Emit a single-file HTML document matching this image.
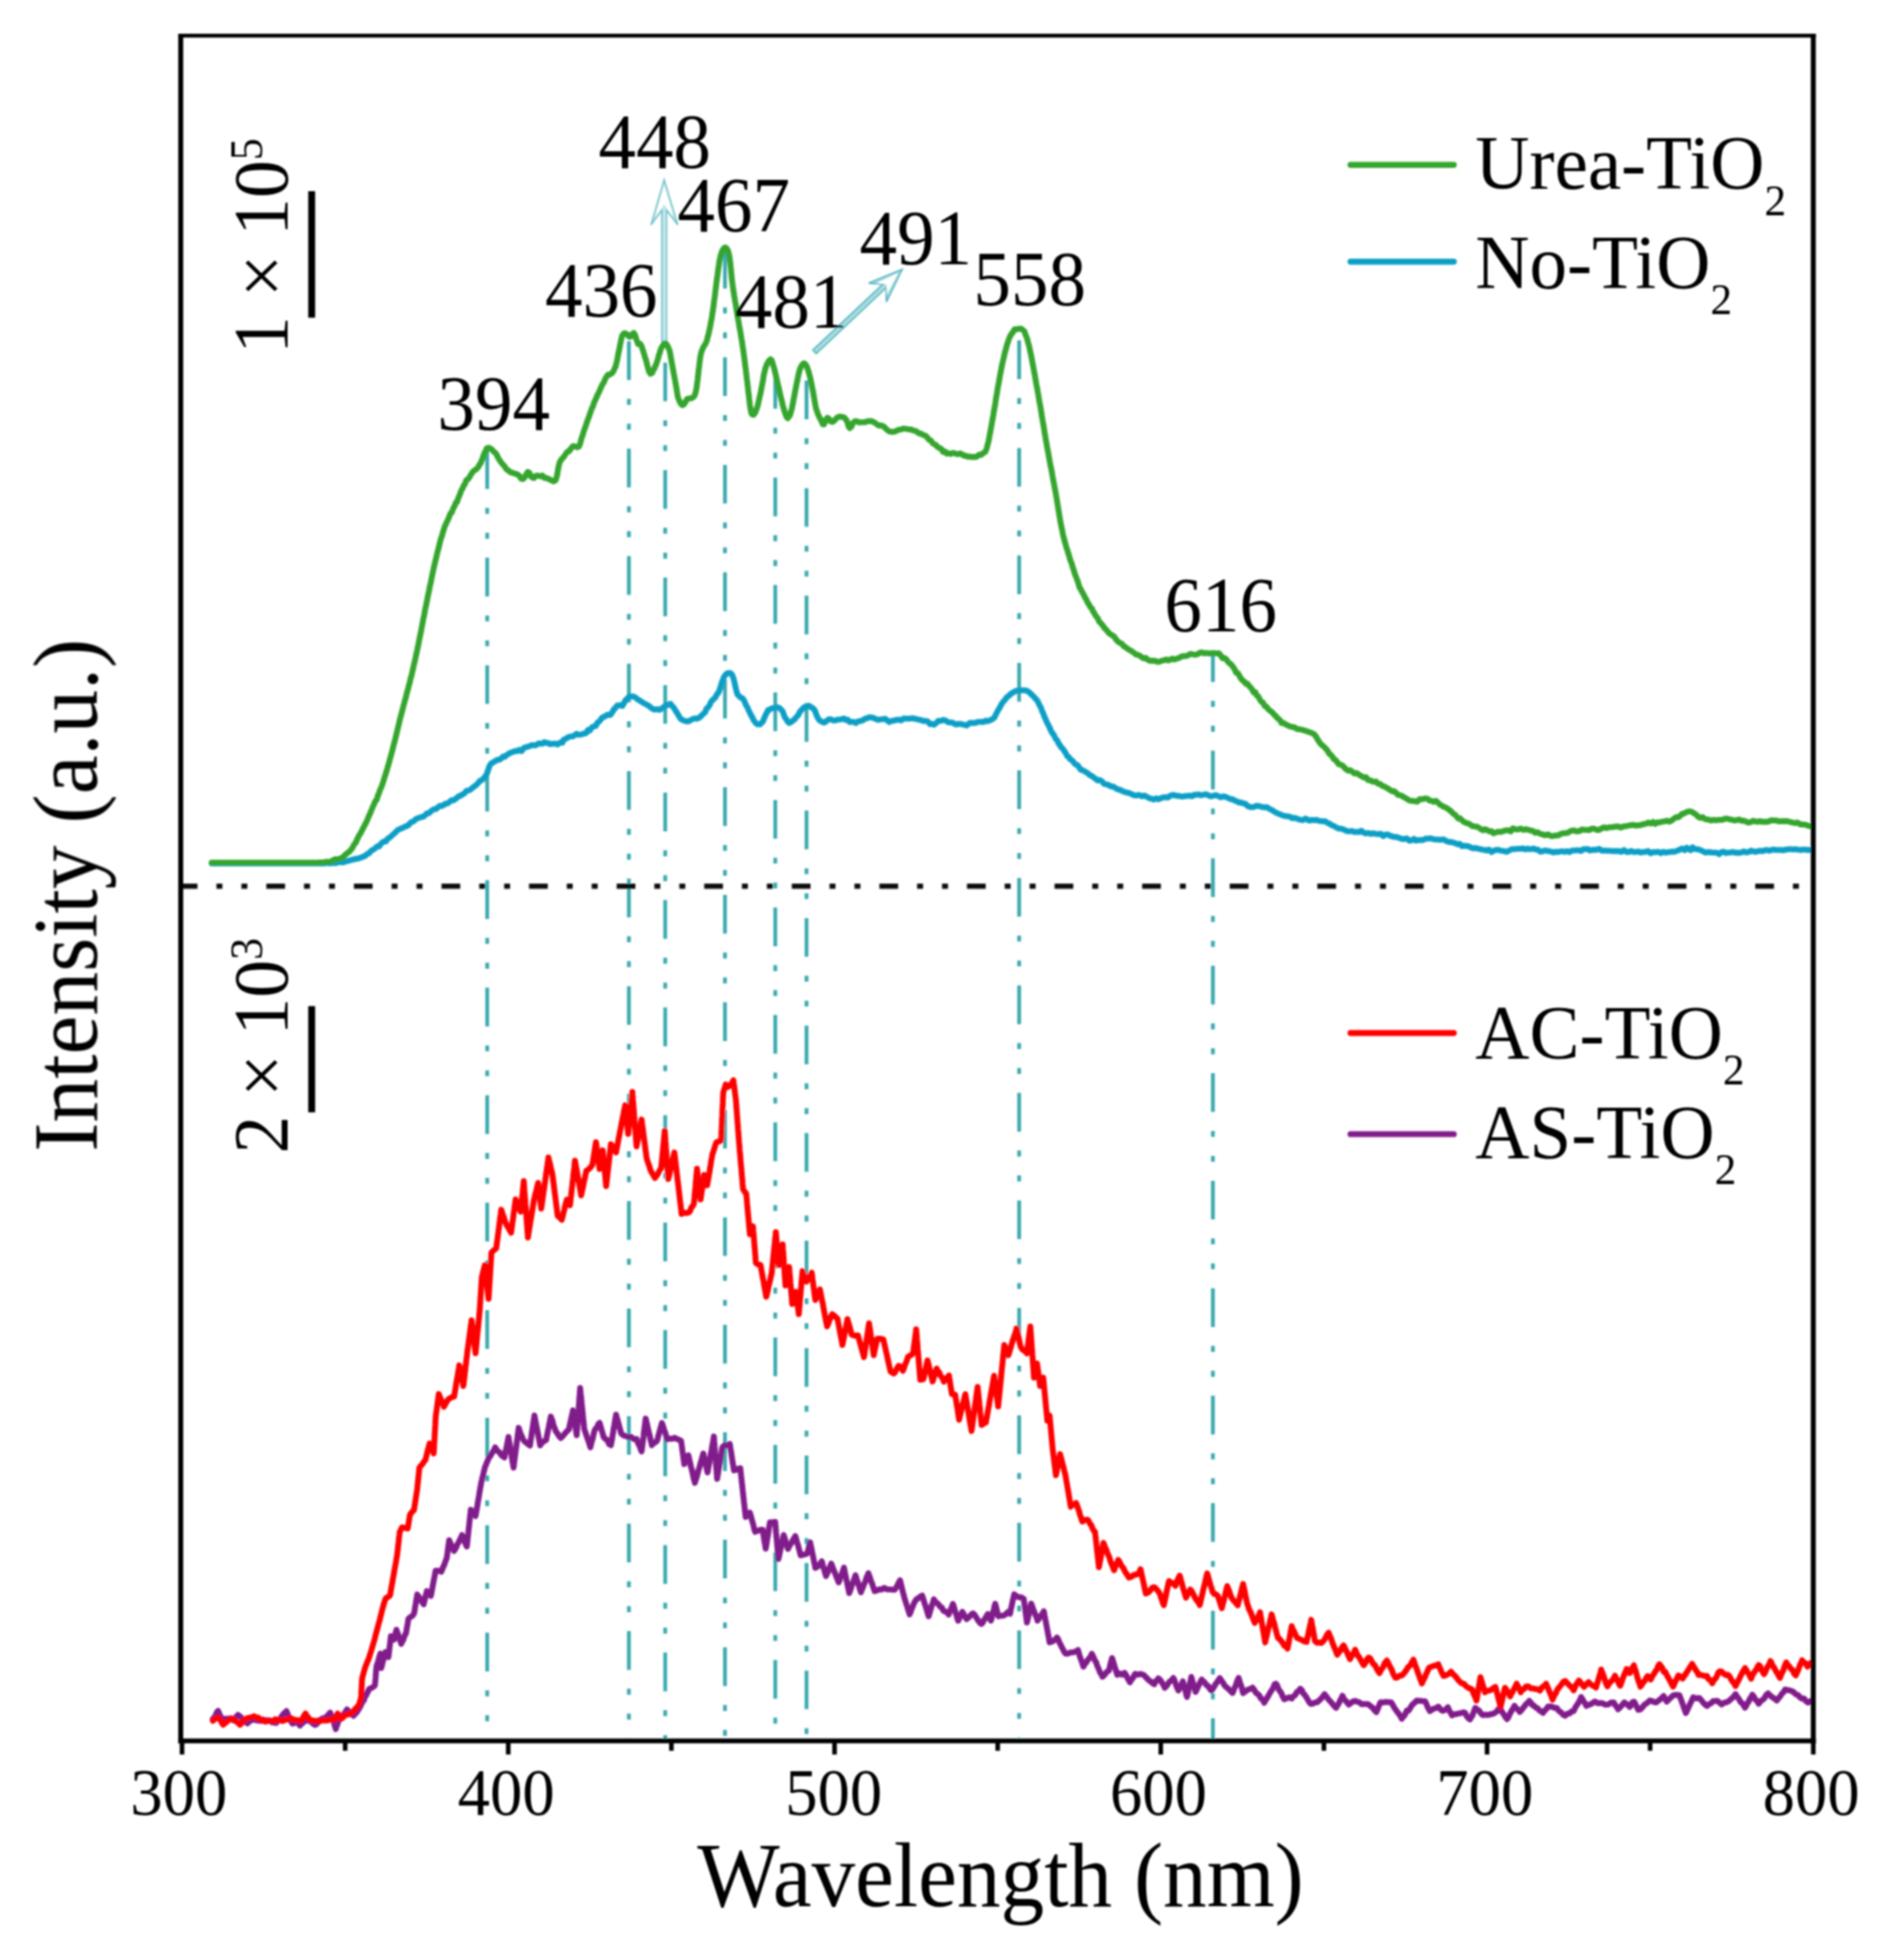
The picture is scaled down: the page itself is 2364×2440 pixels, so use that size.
<!DOCTYPE html>
<html lang="en"><head><meta charset="utf-8"><title>PL spectra</title>
<style>html,body{margin:0;padding:0;background:#fff}svg{display:block}text{font-family:"Liberation Serif","DejaVu Serif",serif;fill:#000}</style>
</head><body>
<svg width="2364" height="2440" viewBox="0 0 2364 2440">
<defs><filter id="soft" x="0" y="0" width="2364" height="2440" filterUnits="userSpaceOnUse"><feGaussianBlur stdDeviation="0.9"/></filter></defs>
<rect x="0" y="0" width="2364" height="2440" fill="#fff"/>
<g filter="url(#soft)">
<g stroke="#3ba9ae" stroke-width="4.7" fill="none">
<line x1="606.5" y1="557.0" x2="606.5" y2="2166.2" stroke-dasharray="48.2 23.6 7.4 23.6 7.4 23.62" stroke-dashoffset="130.3"/>
<line x1="782.9" y1="418.0" x2="782.9" y2="2166.2" stroke-dasharray="48.2 23.6 7.4 23.6 7.4 23.62" stroke-dashoffset="127.1"/>
<line x1="828.1" y1="428.0" x2="828.1" y2="2166.2" stroke-dasharray="48.2 23.6 7.4 23.6 7.4 23.62" stroke-dashoffset="110.4"/>
<line x1="902.5" y1="309.0" x2="902.5" y2="2166.2" stroke-dasharray="48.2 23.6 7.4 23.6 7.4 23.62" stroke-dashoffset="131.8"/>
<line x1="965.1" y1="449.0" x2="965.1" y2="2166.2" stroke-dasharray="48.2 23.6 7.4 23.6 7.4 23.62" stroke-dashoffset="122.2"/>
<line x1="1004.0" y1="453.0" x2="1004.0" y2="2166.2" stroke-dasharray="48.2 23.6 7.4 23.6 7.4 23.62" stroke-dashoffset="113.0"/>
<line x1="1268.7" y1="410.0" x2="1268.7" y2="2166.2" stroke-dasharray="48.2 23.6 7.4 23.6 7.4 23.62" stroke-dashoffset="120.0"/>
<line x1="1509.9" y1="813.0" x2="1509.9" y2="2166.2" stroke-dasharray="48.2 23.6 7.4 23.6 7.4 23.62" stroke-dashoffset="12.2"/>
</g>
<line x1="224" y1="1103.2" x2="2257.3" y2="1103.2" stroke="#111" stroke-width="6.5" stroke-dasharray="23.3 23.65 7.4 23.65 7.4 23.63" stroke-dashoffset="1.5"/>
<path d="M823.8 426 L823.8 262 L810.4 280 L826.8 223.5 L843.8 280 L829.8 262 L829.8 426 Z" fill="#c2e6e9" stroke="#5fbec6" stroke-width="1.6" stroke-linejoin="miter"/>
<path d="M826.8 231 L815.5 270 L826.8 254.5 L838.5 270 Z" fill="#fff" stroke="none"/>
<g transform="translate(1014 438) rotate(-43.27)">
<path d="M0 -3 L119.8 -3 L107.8 -16 L149.8 0 L107.8 16 L119.8 3 L0 3 Z" fill="#aadcdf" stroke="#4fb8c0" stroke-width="1.9"/>
<path d="M142.8 0 L114.8 -9.5 L122.8 0 L114.8 9.5 Z" fill="#fff"/>
</g>
<g fill="none" stroke-width="7.3" stroke-linejoin="round" stroke-linecap="round">
<path d="M263.5 1074.8 L266.6 1074.8 L269.7 1074.8 L272.8 1074.8 L276.2 1074.8 L279.5 1074.8 L282.9 1074.8 L286.2 1074.8 L289.0 1074.8 L291.7 1074.8 L294.5 1074.8 L297.2 1074.8 L300.0 1074.8 L303.3 1074.8 L306.5 1074.8 L309.8 1074.8 L313.1 1074.8 L316.4 1074.8 L319.8 1074.8 L323.2 1074.8 L326.5 1074.8 L329.9 1074.8 L333.3 1074.8 L336.6 1074.8 L340.0 1074.8 L342.8 1074.8 L345.6 1074.8 L348.3 1074.8 L351.1 1074.8 L353.9 1074.8 L356.7 1074.8 L359.4 1074.8 L362.2 1074.8 L365.0 1074.8 L367.8 1074.8 L370.8 1074.8 L373.9 1074.8 L376.9 1074.8 L380.0 1074.8 L383.3 1074.8 L386.7 1074.8 L390.0 1074.8 L392.8 1074.8 L395.6 1074.8 L398.3 1074.8 L401.7 1074.8 L405.0 1074.8 L407.3 1073.6 L409.5 1074.8 L412.3 1074.5 L415.0 1074.2 L417.7 1074.5 L420.3 1073.7 L423.3 1073.1 L427.2 1073.7 L431.5 1072.1 L435.9 1071.0 L440.1 1069.9 L444.3 1068.9 L446.4 1068.8 L448.5 1067.8 L450.6 1067.2 L452.7 1066.1 L454.9 1065.4 L457.0 1063.1 L459.1 1062.5 L461.2 1060.3 L463.3 1058.1 L465.4 1057.4 L467.5 1055.5 L469.6 1053.7 L471.7 1053.9 L473.8 1051.0 L476.0 1048.6 L478.2 1047.4 L480.4 1047.7 L482.6 1044.0 L484.5 1043.2 L486.5 1041.4 L489.6 1038.6 L492.3 1036.2 L494.9 1033.5 L497.4 1032.1 L499.9 1031.2 L503.3 1029.4 L506.0 1028.5 L508.6 1027.0 L511.8 1023.5 L514.9 1022.5 L517.5 1019.8 L520.2 1018.7 L523.6 1017.4 L526.1 1016.9 L528.6 1015.6 L531.2 1012.7 L533.9 1012.4 L537.0 1009.4 L540.8 1007.2 L543.0 1007.0 L545.1 1005.1 L547.4 1003.2 L549.7 1003.5 L552.0 1002.4 L554.4 1000.5 L556.8 1000.4 L559.3 998.6 L562.0 996.1 L564.7 996.4 L567.9 993.9 L571.0 991.2 L573.3 990.7 L575.5 989.0 L577.8 988.0 L580.8 984.4 L583.8 984.0 L586.1 982.6 L588.4 980.5 L590.3 979.2 L592.2 977.7 L594.0 976.2 L595.8 974.1 L597.6 971.9 L599.3 971.6 L602.6 968.5 L604.0 966.5 L605.4 964.5 L606.4 962.4 L607.5 958.8 L608.3 957.1 L609.2 953.7 L610.3 952.3 L611.4 950.4 L614.6 948.7 L618.3 946.4 L622.2 945.4 L624.2 944.0 L626.1 941.8 L628.1 942.2 L630.2 940.3 L632.2 939.3 L634.2 937.6 L637.9 936.3 L641.7 934.9 L643.9 935.1 L646.2 933.4 L649.2 935.0 L652.2 931.0 L655.7 929.9 L659.1 929.0 L662.2 927.5 L665.4 928.0 L668.0 927.2 L670.6 925.4 L672.9 925.7 L675.2 925.8 L677.5 923.9 L679.8 924.9 L682.2 924.9 L684.6 926.4 L687.0 926.0 L689.4 925.9 L691.7 925.6 L694.0 926.9 L698.1 923.9 L700.0 924.6 L701.9 920.6 L704.0 919.9 L706.0 918.7 L708.3 917.3 L710.7 916.8 L713.1 916.7 L715.6 915.0 L717.8 913.5 L720.0 914.7 L723.4 914.4 L726.2 913.4 L729.6 912.7 L731.9 908.7 L734.2 909.5 L736.7 905.6 L739.3 904.1 L741.6 903.9 L743.9 899.4 L745.8 898.3 L747.7 896.0 L749.4 893.4 L751.1 892.8 L754.0 891.2 L756.2 889.7 L758.0 890.2 L760.0 889.9 L762.7 885.9 L764.2 882.8 L765.7 882.0 L768.4 878.1 L770.6 878.2 L772.5 877.9 L774.7 878.8 L777.4 874.2 L778.8 871.4 L780.3 870.3 L783.2 867.2 L786.1 866.9 L789.0 867.1 L791.6 868.8 L793.8 870.7 L795.8 871.7 L797.9 873.1 L800.3 874.7 L802.9 876.2 L805.3 877.3 L807.4 878.5 L809.3 880.1 L811.6 882.0 L814.5 883.3 L817.8 882.9 L821.0 883.7 L824.0 881.8 L826.9 879.8 L829.5 877.7 L831.5 877.7 L833.1 876.5 L834.8 876.2 L836.8 879.0 L838.9 881.1 L841.0 884.8 L843.1 887.9 L845.2 891.5 L847.4 894.9 L849.8 896.4 L852.2 897.3 L854.8 898.0 L857.6 897.8 L860.5 896.0 L863.2 894.8 L865.4 894.3 L867.3 894.8 L869.5 893.9 L872.2 892.1 L875.1 888.9 L878.0 886.4 L879.4 882.2 L880.8 881.4 L882.2 879.6 L883.6 877.4 L885.0 873.8 L886.4 872.2 L887.8 870.8 L889.3 869.5 L890.7 868.1 L892.2 864.6 L893.5 863.3 L894.8 861.5 L895.9 858.1 L897.0 854.8 L898.0 851.5 L899.0 848.1 L900.0 846.4 L901.0 843.1 L903.2 840.0 L905.3 838.1 L907.4 838.0 L909.2 838.0 L911.0 839.4 L912.7 843.2 L913.6 846.4 L914.4 849.7 L915.0 852.4 L915.6 855.4 L916.2 857.9 L917.1 861.2 L918.0 864.4 L920.0 866.6 L922.2 868.5 L924.3 869.2 L926.3 872.0 L928.3 877.0 L929.5 879.2 L930.6 880.8 L932.0 884.4 L933.4 887.1 L934.9 890.3 L936.4 892.7 L937.7 895.7 L939.0 897.6 L941.0 900.3 L942.6 901.5 L944.3 901.6 L946.0 901.9 L947.8 900.0 L949.6 898.3 L950.6 896.0 L951.5 893.6 L952.6 891.2 L953.6 888.7 L954.8 887.1 L955.9 884.2 L958.5 883.1 L961.4 881.6 L964.3 881.6 L967.3 880.4 L970.2 881.2 L972.7 883.8 L974.4 885.9 L975.7 889.6 L977.0 893.1 L978.6 894.9 L980.3 898.0 L982.2 900.0 L984.5 899.1 L987.0 897.2 L989.6 895.1 L991.0 893.0 L992.4 891.6 L993.9 890.0 L995.3 886.7 L998.0 883.5 L1000.2 881.2 L1002.1 880.0 L1004.3 879.4 L1007.1 878.6 L1010.1 880.7 L1012.8 882.4 L1014.7 885.1 L1015.5 887.6 L1016.2 889.5 L1018.0 893.6 L1020.3 896.8 L1022.9 898.3 L1025.4 899.6 L1027.5 898.8 L1029.5 896.9 L1031.7 895.4 L1034.2 895.4 L1037.0 896.9 L1040.0 896.8 L1043.2 895.8 L1046.7 895.6 L1050.7 894.5 L1053.0 896.4 L1055.2 895.9 L1057.7 898.9 L1060.2 898.7 L1062.8 898.7 L1065.4 900.2 L1068.3 898.0 L1071.1 897.6 L1074.1 896.7 L1077.1 894.6 L1079.7 894.1 L1082.3 892.8 L1086.4 893.3 L1089.8 894.8 L1092.8 896.2 L1095.5 895.6 L1097.7 895.4 L1100.0 895.1 L1101.9 894.7 L1103.9 896.4 L1107.0 898.8 L1109.5 897.3 L1112.1 897.3 L1115.2 896.3 L1118.3 895.8 L1121.7 896.9 L1125.0 894.3 L1128.5 894.7 L1132.1 894.7 L1135.8 894.2 L1139.5 894.9 L1143.0 895.7 L1146.4 896.4 L1149.4 897.7 L1152.4 897.4 L1155.1 898.3 L1157.9 901.5 L1160.2 901.1 L1162.5 902.2 L1165.5 900.2 L1167.8 897.5 L1171.4 897.4 L1174.5 896.1 L1177.6 897.2 L1180.2 899.1 L1182.7 899.4 L1185.3 899.4 L1187.8 900.8 L1190.4 901.9 L1192.9 901.1 L1196.5 901.4 L1200.0 902.3 L1203.6 903.1 L1207.2 900.0 L1210.7 900.0 L1214.3 900.0 L1216.8 898.9 L1219.3 898.6 L1221.8 898.7 L1224.3 898.9 L1226.8 897.1 L1229.4 897.9 L1232.5 896.7 L1235.7 895.0 L1237.8 893.3 L1239.9 889.2 L1241.4 886.2 L1243.0 883.3 L1244.7 880.7 L1246.4 877.2 L1248.7 873.8 L1251.0 871.2 L1253.6 867.8 L1256.1 866.1 L1258.4 863.7 L1260.7 862.3 L1264.5 860.1 L1268.0 859.7 L1271.4 859.4 L1274.9 859.3 L1278.4 859.9 L1282.0 862.5 L1283.8 864.4 L1285.6 866.0 L1287.4 867.8 L1289.3 870.0 L1291.1 871.8 L1292.9 875.3 L1294.0 877.9 L1295.2 879.8 L1296.3 882.2 L1297.5 885.9 L1298.6 887.8 L1299.8 891.4 L1301.0 894.0 L1302.3 896.9 L1303.6 899.9 L1305.1 902.6 L1306.6 905.7 L1308.1 909.2 L1309.7 912.3 L1311.4 914.2 L1313.0 917.3 L1314.6 920.3 L1316.3 922.1 L1317.9 925.8 L1319.4 927.4 L1320.9 930.2 L1322.5 931.7 L1324.0 933.4 L1325.5 935.7 L1327.0 938.3 L1328.7 941.4 L1330.3 942.3 L1332.0 945.0 L1333.9 946.2 L1335.7 947.7 L1337.6 950.5 L1339.6 951.9 L1341.6 952.6 L1343.6 955.8 L1345.7 958.4 L1347.9 958.9 L1350.0 960.1 L1352.2 961.6 L1354.4 962.7 L1356.6 965.0 L1358.9 965.7 L1361.3 967.8 L1363.6 969.3 L1366.2 971.6 L1368.8 971.0 L1371.4 972.2 L1374.5 976.0 L1377.6 976.5 L1380.7 977.5 L1383.2 979.2 L1385.7 979.1 L1388.2 980.7 L1390.7 982.4 L1393.8 983.1 L1396.9 984.6 L1400.0 985.9 L1402.6 986.6 L1405.2 987.1 L1407.8 988.3 L1411.3 989.9 L1414.8 990.3 L1418.1 989.6 L1421.4 991.4 L1424.5 990.3 L1427.6 991.9 L1430.6 993.6 L1433.5 994.3 L1436.4 995.4 L1439.3 993.8 L1442.2 995.1 L1445.1 993.6 L1447.9 992.7 L1450.8 992.4 L1453.9 992.8 L1457.0 990.6 L1460.4 989.6 L1463.8 990.5 L1467.4 990.8 L1471.0 991.6 L1473.5 991.3 L1476.1 990.8 L1478.6 990.8 L1481.3 990.4 L1483.9 991.3 L1486.6 989.5 L1489.3 989.5 L1492.1 989.0 L1494.9 990.0 L1497.8 989.5 L1500.7 988.8 L1503.6 989.7 L1506.8 991.3 L1509.9 990.9 L1513.1 989.8 L1516.3 990.9 L1519.6 992.6 L1522.9 991.4 L1525.9 992.1 L1529.0 993.5 L1532.0 994.9 L1534.6 995.0 L1537.1 996.7 L1539.7 997.5 L1542.0 999.0 L1544.3 998.9 L1546.7 999.9 L1550.1 1000.6 L1553.6 1003.7 L1557.1 1004.8 L1560.6 1004.7 L1564.1 1003.1 L1567.6 1003.6 L1571.3 1004.7 L1575.0 1005.0 L1577.6 1005.0 L1580.1 1007.0 L1582.7 1008.1 L1585.4 1009.7 L1588.1 1011.5 L1590.7 1012.6 L1593.8 1013.8 L1596.9 1015.3 L1600.0 1016.0 L1603.0 1016.2 L1606.0 1016.9 L1608.9 1018.7 L1611.9 1018.2 L1615.2 1019.4 L1618.4 1020.5 L1621.7 1021.0 L1625.0 1019.0 L1627.7 1020.5 L1630.3 1021.5 L1633.0 1020.7 L1635.7 1021.1 L1638.8 1020.6 L1642.0 1021.8 L1645.9 1022.4 L1650.0 1022.5 L1652.5 1024.5 L1655.0 1025.3 L1657.7 1027.2 L1660.3 1028.1 L1663.3 1030.0 L1666.3 1031.3 L1669.6 1031.6 L1672.9 1032.8 L1676.6 1034.6 L1680.2 1034.9 L1683.1 1034.5 L1686.1 1035.9 L1689.0 1035.5 L1691.8 1035.9 L1694.6 1034.2 L1697.4 1036.4 L1700.1 1037.5 L1703.3 1037.0 L1706.4 1038.1 L1709.6 1037.3 L1712.8 1038.2 L1715.8 1038.3 L1718.9 1038.0 L1721.9 1040.8 L1725.0 1039.0 L1727.9 1038.9 L1730.8 1040.6 L1733.7 1041.5 L1736.6 1041.8 L1739.4 1042.2 L1742.3 1043.3 L1745.1 1044.3 L1747.9 1044.5 L1751.2 1043.7 L1754.4 1046.7 L1757.7 1045.9 L1760.2 1044.3 L1762.7 1046.5 L1765.2 1045.8 L1768.2 1045.6 L1771.2 1045.9 L1774.3 1044.2 L1777.3 1044.0 L1780.5 1043.6 L1783.7 1044.5 L1787.0 1045.2 L1790.2 1045.1 L1793.6 1045.5 L1797.0 1044.9 L1800.6 1047.1 L1804.2 1048.3 L1806.8 1048.2 L1809.3 1049.0 L1811.8 1049.7 L1814.5 1051.1 L1817.1 1050.4 L1819.8 1053.3 L1822.7 1052.9 L1825.5 1053.2 L1828.4 1053.7 L1831.4 1055.3 L1834.3 1056.2 L1837.3 1055.7 L1840.2 1056.6 L1843.0 1057.1 L1845.9 1057.8 L1848.4 1058.1 L1850.9 1058.9 L1853.4 1057.6 L1856.9 1060.7 L1860.5 1058.6 L1863.2 1058.0 L1866.0 1058.2 L1868.7 1059.2 L1872.1 1059.4 L1875.5 1060.4 L1878.9 1058.8 L1881.7 1057.2 L1884.5 1057.2 L1887.3 1056.8 L1890.1 1056.6 L1893.0 1056.6 L1895.8 1056.1 L1898.6 1057.4 L1901.4 1056.5 L1904.0 1057.1 L1906.7 1056.8 L1909.3 1056.3 L1911.9 1057.7 L1914.5 1057.7 L1917.2 1060.1 L1919.8 1060.0 L1922.4 1058.9 L1925.3 1059.0 L1928.2 1059.6 L1931.1 1060.2 L1934.0 1061.2 L1936.8 1060.3 L1939.5 1060.7 L1942.3 1059.9 L1945.0 1059.8 L1947.8 1060.5 L1950.8 1059.6 L1953.8 1060.8 L1956.7 1058.9 L1959.7 1058.9 L1962.7 1058.5 L1965.5 1058.6 L1968.2 1059.4 L1971.0 1057.2 L1973.7 1057.1 L1976.5 1056.9 L1979.2 1058.9 L1982.0 1057.9 L1984.7 1058.0 L1987.5 1057.9 L1990.7 1056.6 L1994.0 1059.0 L1997.3 1058.8 L2000.2 1059.2 L2003.2 1059.2 L2006.1 1059.3 L2009.0 1059.6 L2012.1 1059.3 L2015.3 1059.6 L2018.4 1060.4 L2021.6 1058.3 L2024.7 1060.5 L2027.6 1060.7 L2030.6 1059.4 L2033.5 1060.7 L2036.4 1060.6 L2039.3 1060.0 L2042.3 1061.3 L2045.4 1060.7 L2048.6 1060.5 L2051.7 1059.5 L2054.9 1062.3 L2058.0 1060.7 L2061.2 1060.8 L2064.4 1060.3 L2067.5 1062.1 L2070.7 1060.3 L2073.4 1061.5 L2076.2 1060.9 L2078.9 1060.7 L2081.6 1060.1 L2084.6 1060.4 L2087.7 1059.2 L2090.7 1058.0 L2094.0 1056.2 L2097.3 1058.3 L2099.8 1055.4 L2102.2 1056.9 L2104.6 1058.5 L2107.0 1054.8 L2109.3 1056.8 L2111.6 1057.1 L2113.9 1057.4 L2116.2 1058.0 L2119.8 1059.7 L2123.4 1061.4 L2126.2 1060.7 L2129.0 1061.0 L2131.8 1061.3 L2134.7 1061.4 L2137.4 1061.7 L2140.2 1063.4 L2142.9 1060.9 L2145.7 1060.2 L2148.5 1062.1 L2151.3 1061.3 L2154.1 1061.3 L2156.9 1060.6 L2159.8 1061.5 L2162.6 1061.4 L2165.5 1061.8 L2168.3 1061.0 L2171.2 1059.9 L2174.0 1061.3 L2176.9 1060.7 L2179.8 1059.0 L2182.7 1059.9 L2185.6 1060.5 L2188.5 1059.6 L2191.5 1059.2 L2194.2 1059.7 L2196.9 1058.5 L2199.6 1058.2 L2202.3 1059.0 L2205.0 1058.2 L2208.0 1057.7 L2211.1 1058.2 L2214.1 1058.1 L2217.2 1058.2 L2220.0 1058.5 L2222.7 1057.6 L2225.5 1057.5 L2228.3 1057.0 L2231.4 1057.5 L2234.6 1057.1 L2237.7 1057.7 L2240.2 1058.0 L2242.7 1058.0 L2245.2 1057.5 L2248.2 1058.0 L2251.1 1058.0 L2255.0 1058.3" stroke="#0c9fc6"/>
<path d="M263.5 1073.8 L266.6 1073.8 L269.7 1073.8 L272.8 1073.8 L276.2 1073.8 L279.5 1073.8 L282.9 1073.8 L286.2 1073.8 L289.0 1073.8 L291.7 1073.8 L294.5 1073.8 L297.2 1073.8 L300.0 1073.8 L303.3 1073.8 L306.6 1073.8 L309.9 1073.8 L313.3 1073.8 L316.0 1073.8 L318.7 1073.8 L321.4 1073.8 L324.2 1073.8 L326.9 1073.8 L330.2 1073.8 L333.5 1073.8 L336.7 1073.8 L340.0 1073.8 L343.1 1073.8 L346.3 1073.8 L349.4 1073.8 L352.6 1073.8 L355.6 1073.8 L358.6 1073.8 L361.6 1073.8 L364.6 1073.8 L368.1 1073.8 L371.5 1073.8 L375.0 1073.8 L377.7 1073.8 L380.5 1073.8 L383.2 1073.8 L386.4 1073.8 L389.7 1073.8 L392.4 1073.8 L395.0 1073.8 L398.9 1073.7 L401.6 1073.6 L404.0 1073.4 L406.2 1072.6 L408.0 1073.2 L410.6 1072.9 L414.5 1071.1 L416.9 1069.6 L419.2 1070.0 L423.3 1068.7 L426.4 1067.6 L429.1 1064.8 L431.7 1062.5 L434.5 1060.6 L435.9 1058.9 L437.3 1057.5 L438.7 1055.5 L440.1 1052.7 L441.5 1050.2 L442.9 1049.3 L444.3 1045.5 L445.7 1042.8 L447.1 1039.8 L448.5 1037.9 L449.9 1035.2 L451.4 1032.3 L452.8 1029.5 L454.3 1026.7 L455.6 1024.2 L457.0 1021.4 L458.1 1018.7 L459.3 1015.5 L460.3 1014.0 L461.4 1010.8 L462.7 1008.0 L464.0 1004.5 L465.2 1002.3 L466.4 999.1 L467.6 996.9 L469.0 995.4 L470.4 990.4 L471.8 987.5 L472.9 983.9 L473.9 981.6 L475.0 979.4 L476.0 976.3 L477.0 973.4 L478.0 970.1 L479.0 966.6 L480.0 964.0 L480.8 960.8 L481.6 959.1 L482.4 955.5 L483.2 953.2 L484.0 950.2 L484.8 947.6 L485.6 944.1 L486.4 941.8 L487.2 938.5 L488.0 935.9 L488.8 932.7 L489.6 929.4 L490.4 926.0 L491.2 923.4 L492.0 920.1 L492.6 917.9 L493.3 914.5 L494.0 912.0 L494.6 909.3 L495.3 906.5 L495.9 903.7 L496.6 901.1 L497.3 898.1 L497.9 895.3 L498.6 892.8 L499.2 890.5 L499.9 887.9 L500.7 884.8 L501.5 881.8 L502.3 878.6 L503.2 875.5 L504.0 872.2 L504.8 869.4 L505.6 866.7 L506.4 862.9 L507.3 859.7 L508.1 857.3 L508.8 854.0 L509.6 851.3 L510.4 848.3 L511.1 844.6 L511.9 842.5 L512.6 839.6 L513.3 836.2 L514.0 833.5 L514.6 830.4 L515.3 827.3 L516.0 824.6 L516.6 821.8 L517.2 819.2 L517.8 816.2 L518.5 813.2 L519.1 810.7 L519.7 807.3 L520.3 804.8 L520.9 802.1 L521.5 798.9 L522.1 795.5 L522.7 792.9 L523.2 790.3 L523.8 787.5 L524.4 784.7 L524.9 781.3 L525.5 778.7 L526.0 775.9 L526.6 772.8 L527.1 769.6 L527.7 767.4 L528.2 764.9 L528.8 761.7 L529.3 758.4 L529.9 755.7 L530.5 753.0 L531.0 750.8 L531.6 747.5 L532.2 744.5 L532.7 741.9 L533.3 738.9 L533.9 736.6 L534.5 733.2 L535.0 730.4 L535.6 727.9 L536.3 725.0 L536.9 721.6 L537.6 718.3 L538.3 714.7 L538.9 712.0 L539.5 709.2 L540.1 706.4 L540.7 703.9 L541.5 700.3 L542.3 697.3 L543.1 693.7 L543.9 690.3 L544.7 687.1 L545.5 683.9 L546.4 680.8 L547.2 677.0 L548.1 673.7 L549.0 670.0 L550.0 667.9 L550.9 664.4 L551.9 661.0 L552.9 657.8 L553.9 654.7 L555.1 652.4 L556.2 649.7 L557.4 647.6 L558.7 644.6 L559.9 641.4 L561.2 638.5 L562.4 638.0 L563.5 634.9 L564.7 631.9 L566.2 629.4 L567.6 625.5 L569.0 625.0 L570.3 620.5 L571.7 617.5 L573.0 614.2 L574.4 610.1 L575.8 608.3 L577.2 604.5 L578.7 602.8 L580.1 598.6 L581.5 597.1 L582.9 596.4 L584.3 594.2 L587.0 589.5 L589.8 586.0 L592.6 584.3 L595.4 581.5 L596.8 578.4 L598.2 576.9 L599.5 573.6 L600.8 570.3 L601.6 567.8 L602.4 566.1 L603.3 563.2 L604.6 561.8 L605.9 558.0 L608.8 557.4 L611.9 559.2 L615.0 562.7 L616.6 563.6 L618.2 565.7 L619.8 569.5 L621.4 572.0 L623.0 574.3 L624.6 576.6 L626.2 578.4 L627.8 580.1 L629.4 582.7 L631.0 584.6 L632.6 585.4 L634.2 587.1 L637.5 588.6 L640.8 589.6 L643.8 590.4 L646.4 592.3 L648.8 596.0 L651.0 596.4 L653.1 594.3 L655.0 590.6 L657.0 587.6 L659.0 588.6 L661.0 593.3 L663.0 594.7 L664.7 595.1 L666.5 592.6 L669.0 592.0 L672.9 593.0 L675.3 591.9 L677.7 595.0 L679.8 594.9 L682.0 595.9 L685.7 597.6 L689.0 599.3 L691.7 598.0 L692.6 595.0 L693.6 591.2 L694.0 588.6 L694.5 585.4 L694.9 583.1 L695.7 579.7 L696.5 575.9 L697.6 574.1 L698.6 572.1 L701.0 569.8 L703.7 566.0 L705.3 563.7 L706.8 562.1 L708.5 561.9 L710.2 559.0 L713.3 555.5 L716.0 555.7 L718.4 556.8 L720.6 556.1 L722.2 552.4 L722.9 549.6 L723.6 546.7 L724.4 544.0 L725.2 542.3 L726.0 539.1 L727.0 536.1 L728.1 533.1 L729.1 530.3 L730.1 527.4 L731.1 524.2 L732.1 521.7 L733.2 518.9 L734.2 515.6 L735.2 512.9 L736.2 510.0 L737.2 507.4 L738.3 505.7 L739.3 501.5 L740.3 499.9 L741.6 496.8 L742.8 493.8 L744.1 491.3 L745.4 488.7 L746.7 485.7 L747.9 483.0 L749.2 480.0 L750.5 477.7 L751.9 475.7 L753.2 472.3 L754.6 469.6 L757.0 466.5 L758.5 466.6 L760.0 465.7 L762.1 464.5 L764.3 460.8 L765.4 458.0 L766.4 456.2 L767.1 452.8 L767.7 450.7 L768.4 447.9 L769.0 444.2 L769.6 441.0 L770.2 438.0 L770.7 435.7 L771.3 433.1 L771.8 429.8 L772.4 427.4 L773.0 424.2 L773.9 419.9 L775.0 416.8 L776.4 415.5 L777.8 414.7 L779.3 415.5 L780.7 416.1 L782.1 418.0 L783.6 419.3 L785.4 418.7 L787.3 415.7 L789.0 414.5 L790.2 416.5 L791.1 418.7 L792.0 422.0 L792.7 423.8 L793.4 425.8 L794.3 428.2 L795.5 428.8 L796.9 428.0 L798.6 430.7 L799.6 433.8 L800.6 436.8 L801.4 439.4 L802.2 441.7 L802.9 444.5 L804.0 447.7 L805.0 451.2 L805.8 455.0 L806.6 457.6 L807.3 460.3 L808.0 462.6 L809.7 465.3 L812.0 464.0 L813.2 460.4 L814.5 459.3 L815.6 456.0 L816.8 453.7 L817.7 450.7 L818.7 448.0 L819.5 445.2 L820.3 441.6 L821.2 439.7 L822.0 436.2 L823.8 432.1 L825.7 429.6 L827.5 427.4 L829.4 428.2 L831.2 431.0 L832.9 434.7 L833.6 436.7 L834.4 440.3 L834.8 443.2 L835.2 445.6 L835.7 447.8 L836.1 450.3 L836.6 453.0 L837.0 455.5 L837.5 458.3 L838.0 460.9 L838.5 463.6 L839.0 466.7 L839.5 469.0 L840.0 471.6 L840.5 474.6 L840.9 476.5 L841.4 479.2 L841.9 482.5 L842.5 485.8 L842.9 488.5 L843.4 491.6 L844.0 494.7 L844.6 496.3 L846.2 500.1 L848.1 503.4 L850.0 504.4 L851.7 503.1 L853.4 500.3 L855.4 496.5 L857.9 496.0 L860.6 495.9 L862.9 494.6 L864.5 492.9 L865.7 489.5 L866.4 486.4 L867.0 483.6 L867.4 480.8 L867.7 478.1 L868.1 475.3 L868.5 472.4 L868.8 469.5 L869.1 466.7 L869.4 464.2 L869.7 461.4 L870.0 458.5 L870.4 455.7 L870.7 452.8 L871.1 449.8 L871.4 447.1 L871.9 443.7 L872.5 440.9 L873.4 437.3 L874.6 434.5 L876.2 431.1 L878.0 428.5 L879.0 426.3 L880.0 424.0 L880.7 420.7 L881.4 418.0 L882.1 415.9 L882.8 412.1 L883.5 409.2 L884.2 405.6 L884.8 402.7 L885.3 399.2 L885.9 396.8 L886.4 393.5 L886.8 390.3 L887.3 387.6 L887.7 384.2 L888.2 381.6 L888.6 377.8 L889.0 374.7 L889.4 371.7 L889.8 369.0 L890.2 365.7 L890.5 362.8 L890.9 359.8 L891.3 356.5 L891.7 353.6 L892.1 350.4 L892.5 347.2 L892.9 344.4 L893.3 341.7 L893.6 338.9 L894.0 336.0 L894.4 333.2 L894.8 330.8 L895.2 327.9 L895.6 325.0 L896.3 321.9 L897.0 318.3 L897.9 315.9 L898.7 313.2 L900.6 309.5 L902.5 308.0 L904.4 309.0 L906.2 311.9 L907.0 315.3 L907.9 318.5 L908.4 321.9 L908.8 325.4 L909.3 328.7 L909.6 332.1 L909.9 334.8 L910.2 338.4 L910.5 341.6 L910.9 345.3 L911.2 348.4 L911.6 351.4 L912.0 355.0 L912.5 358.2 L913.0 361.9 L913.5 364.8 L914.0 368.3 L914.5 371.1 L914.9 373.8 L915.4 376.5 L915.9 379.0 L916.3 382.2 L916.8 385.1 L917.2 387.5 L917.7 390.0 L918.1 393.0 L918.6 395.8 L919.1 398.9 L919.7 402.1 L920.2 405.7 L920.8 408.4 L921.3 411.6 L921.9 414.5 L922.4 417.9 L922.9 421.1 L923.5 424.3 L924.0 427.6 L924.5 431.4 L925.0 434.3 L925.4 437.1 L925.8 440.4 L926.2 442.8 L926.5 445.4 L926.9 448.6 L927.3 451.3 L927.6 454.7 L928.0 457.1 L928.4 460.2 L928.7 463.1 L929.1 466.0 L929.4 468.6 L929.7 471.5 L930.1 474.2 L930.4 476.9 L930.8 480.4 L931.2 483.7 L931.5 486.9 L931.9 490.1 L932.3 493.1 L932.6 496.4 L933.0 499.8 L933.3 502.4 L933.7 505.3 L934.2 508.3 L934.6 511.3 L935.7 515.2 L936.8 516.1 L937.9 516.4 L939.2 515.0 L940.5 512.9 L942.0 508.8 L942.9 506.2 L943.7 502.9 L944.4 499.7 L945.0 497.0 L945.6 494.5 L946.2 491.9 L946.9 488.8 L947.5 485.7 L948.1 482.4 L948.7 479.4 L949.3 476.1 L949.9 473.2 L950.4 469.1 L951.0 465.9 L951.7 463.7 L952.3 460.5 L952.9 458.2 L954.0 455.2 L955.0 452.6 L957.3 449.0 L959.3 447.3 L960.8 448.7 L962.1 453.2 L962.8 455.5 L963.6 458.0 L964.3 460.9 L964.9 463.4 L965.6 466.1 L966.3 469.2 L967.1 472.5 L967.8 476.1 L968.5 479.1 L969.3 482.0 L970.0 485.7 L970.7 488.6 L971.5 492.1 L972.2 494.9 L972.9 497.8 L973.7 501.0 L974.4 504.5 L975.4 507.8 L976.4 511.4 L977.2 513.8 L978.0 516.2 L979.3 519.4 L980.7 520.7 L982.1 518.4 L983.4 517.2 L984.2 514.0 L985.0 511.3 L985.7 509.0 L986.4 505.1 L987.1 502.3 L987.6 499.2 L988.2 495.7 L988.8 493.1 L989.3 490.0 L989.9 487.2 L990.4 484.0 L990.9 481.9 L991.4 479.3 L991.9 476.4 L992.4 474.6 L993.0 471.4 L993.6 468.2 L994.3 465.0 L995.0 462.3 L995.7 459.8 L997.4 456.0 L999.2 453.4 L1001.0 452.2 L1002.8 453.8 L1004.6 456.6 L1005.5 459.8 L1006.4 461.8 L1007.3 465.5 L1008.2 468.7 L1008.9 471.5 L1009.5 474.5 L1010.1 477.1 L1010.7 480.8 L1011.2 482.9 L1011.8 485.7 L1012.3 488.3 L1012.8 491.6 L1013.2 494.2 L1013.7 496.8 L1014.1 499.2 L1014.6 502.2 L1015.3 505.9 L1016.0 509.2 L1016.9 511.4 L1017.8 514.3 L1018.7 516.2 L1019.6 518.7 L1021.4 521.8 L1022.9 524.9 L1024.3 528.2 L1025.7 528.4 L1027.1 525.0 L1028.4 522.1 L1030.0 520.0 L1031.9 521.3 L1034.0 524.6 L1036.4 525.2 L1039.1 523.2 L1040.6 521.3 L1042.1 519.9 L1045.0 518.6 L1048.0 518.9 L1051.1 519.8 L1053.6 522.8 L1055.2 526.4 L1056.4 531.0 L1057.8 533.0 L1059.7 531.5 L1060.8 529.0 L1061.9 526.3 L1064.3 524.5 L1066.8 524.5 L1069.6 525.9 L1072.8 525.7 L1076.9 525.7 L1079.2 524.5 L1081.6 524.2 L1085.7 524.5 L1089.0 526.2 L1091.8 528.3 L1094.3 529.8 L1096.4 529.6 L1098.1 529.9 L1100.0 531.0 L1101.8 532.6 L1103.8 534.6 L1107.0 537.1 L1109.5 537.5 L1112.1 537.6 L1115.2 536.8 L1118.3 535.1 L1121.7 534.6 L1125.0 533.5 L1128.5 534.0 L1132.0 534.6 L1134.5 534.7 L1136.9 536.0 L1139.4 536.3 L1141.7 537.7 L1144.1 539.6 L1146.4 539.7 L1148.5 541.1 L1150.6 541.9 L1152.8 542.8 L1154.7 545.2 L1156.7 547.5 L1158.7 548.3 L1161.5 552.2 L1164.3 553.4 L1166.8 556.0 L1169.3 557.7 L1171.6 558.7 L1174.0 562.7 L1176.3 562.0 L1178.6 564.8 L1181.0 564.1 L1183.4 565.1 L1185.8 564.0 L1188.1 564.2 L1190.5 565.1 L1192.9 565.3 L1195.3 564.3 L1197.6 565.7 L1199.9 567.4 L1202.3 567.2 L1204.6 568.7 L1207.0 568.2 L1209.5 569.1 L1212.0 568.7 L1214.6 569.1 L1217.1 567.8 L1219.3 565.8 L1221.4 566.3 L1224.3 563.9 L1226.5 562.6 L1227.5 560.4 L1228.6 557.2 L1229.4 553.6 L1230.2 551.0 L1231.0 547.4 L1231.6 543.9 L1232.1 541.0 L1232.7 538.3 L1233.3 534.7 L1233.8 532.1 L1234.3 529.3 L1234.8 526.4 L1235.2 524.0 L1235.7 521.5 L1236.2 518.6 L1236.7 515.8 L1237.1 512.5 L1237.6 510.5 L1238.1 507.5 L1238.6 504.7 L1239.1 501.8 L1239.5 498.4 L1240.0 495.4 L1240.5 492.6 L1241.0 490.2 L1241.5 486.6 L1241.9 484.2 L1242.4 481.2 L1242.9 478.7 L1243.5 475.8 L1244.1 472.2 L1244.6 468.7 L1245.2 465.9 L1245.8 462.8 L1246.4 459.5 L1246.9 457.1 L1247.5 453.8 L1248.1 451.3 L1248.8 448.0 L1249.4 446.0 L1250.0 442.6 L1250.7 440.7 L1251.3 437.1 L1252.0 435.6 L1252.7 432.5 L1253.7 428.8 L1254.6 426.2 L1255.6 423.2 L1256.7 420.2 L1257.8 418.1 L1258.9 416.1 L1260.9 413.6 L1263.0 409.9 L1265.2 410.0 L1267.5 409.4 L1271.4 409.2 L1274.2 411.5 L1275.3 412.6 L1276.4 416.1 L1277.5 418.6 L1278.6 421.5 L1279.4 424.7 L1280.1 427.5 L1280.9 430.0 L1281.5 432.5 L1282.1 435.7 L1282.6 438.2 L1283.2 440.5 L1283.8 443.7 L1284.5 447.3 L1285.1 450.4 L1285.7 453.6 L1286.3 456.8 L1286.8 459.7 L1287.4 463.1 L1288.0 465.6 L1288.5 468.8 L1289.0 471.8 L1289.5 474.7 L1290.0 477.6 L1290.5 480.6 L1291.1 483.0 L1291.6 486.2 L1292.1 489.1 L1292.6 491.6 L1293.1 494.8 L1293.6 498.2 L1294.1 500.9 L1294.6 503.5 L1295.1 506.0 L1295.6 509.2 L1296.1 512.1 L1296.6 515.2 L1297.0 518.6 L1297.5 521.1 L1298.0 524.0 L1298.5 526.7 L1299.0 529.6 L1299.5 532.8 L1300.0 535.7 L1300.5 539.2 L1301.0 541.7 L1301.5 544.7 L1302.0 548.2 L1302.6 550.9 L1303.1 553.7 L1303.6 557.2 L1304.2 560.1 L1304.8 563.0 L1305.4 566.6 L1305.9 569.8 L1306.5 572.8 L1307.1 576.2 L1307.6 579.1 L1308.2 581.4 L1308.7 583.9 L1309.2 586.6 L1309.8 590.0 L1310.3 593.1 L1310.8 595.7 L1311.4 599.1 L1312.0 602.3 L1312.6 605.0 L1313.1 608.3 L1313.7 610.8 L1314.3 614.4 L1314.8 617.3 L1315.3 620.1 L1315.8 622.9 L1316.2 625.7 L1316.7 628.9 L1317.2 631.9 L1317.6 634.5 L1318.1 637.4 L1318.5 640.0 L1319.0 642.9 L1319.4 645.4 L1319.9 648.5 L1320.5 651.6 L1321.1 654.9 L1321.8 657.8 L1322.4 660.8 L1323.0 664.2 L1323.8 667.7 L1324.6 671.0 L1325.4 673.4 L1326.2 676.8 L1327.0 679.7 L1327.9 682.6 L1328.8 684.8 L1329.7 688.4 L1330.6 690.8 L1331.5 694.4 L1332.3 697.0 L1333.2 699.5 L1334.0 700.8 L1334.9 704.7 L1335.7 707.2 L1336.6 709.1 L1337.5 712.8 L1338.4 715.1 L1339.3 717.7 L1340.4 720.5 L1341.5 723.4 L1342.6 726.8 L1343.9 731.5 L1345.1 732.9 L1346.4 735.8 L1347.9 738.2 L1349.4 741.1 L1350.9 744.2 L1352.5 746.6 L1354.2 750.6 L1355.8 752.7 L1357.4 756.0 L1359.1 757.2 L1360.7 761.1 L1362.2 763.2 L1363.7 766.1 L1365.2 768.1 L1366.7 769.8 L1368.2 773.7 L1369.7 775.0 L1371.5 777.3 L1373.2 779.0 L1375.0 782.1 L1377.2 784.0 L1379.5 786.9 L1381.7 789.2 L1384.2 790.7 L1386.8 792.3 L1389.3 796.0 L1391.6 798.6 L1394.0 800.4 L1396.4 801.2 L1398.5 804.0 L1400.6 805.4 L1402.8 806.9 L1405.7 809.1 L1408.7 810.6 L1411.5 812.7 L1414.3 814.8 L1416.8 815.4 L1419.3 816.5 L1421.6 818.4 L1424.0 819.7 L1426.3 819.0 L1428.6 821.1 L1430.9 822.5 L1433.1 822.4 L1435.4 822.9 L1437.6 822.4 L1440.3 823.8 L1442.9 823.9 L1446.2 822.5 L1449.5 821.9 L1452.0 820.9 L1454.4 822.2 L1456.9 821.1 L1459.4 819.9 L1461.8 821.1 L1464.3 820.0 L1467.8 819.2 L1471.4 816.9 L1474.9 816.8 L1478.4 816.2 L1482.1 814.0 L1485.7 814.8 L1488.3 815.1 L1490.9 814.4 L1493.6 812.7 L1496.3 812.2 L1498.9 813.4 L1501.6 812.8 L1505.3 813.5 L1508.9 813.1 L1511.8 813.0 L1514.7 813.5 L1517.2 813.2 L1519.8 816.2 L1522.4 819.7 L1525.0 819.4 L1526.9 821.2 L1528.9 824.2 L1530.8 825.9 L1532.8 827.2 L1534.9 830.3 L1536.9 832.9 L1538.9 837.7 L1540.9 837.9 L1542.9 841.4 L1544.9 844.8 L1546.9 847.0 L1548.8 848.4 L1550.8 851.2 L1552.8 850.9 L1554.8 853.9 L1556.7 855.7 L1558.7 858.2 L1560.7 862.0 L1562.6 861.6 L1564.6 865.9 L1566.5 867.1 L1568.5 871.3 L1570.4 873.7 L1572.4 874.7 L1574.4 879.1 L1576.5 879.7 L1578.6 882.7 L1581.0 884.7 L1583.4 886.4 L1585.7 889.1 L1588.2 891.5 L1590.8 894.5 L1593.3 896.4 L1595.5 900.2 L1597.8 899.8 L1600.0 901.6 L1602.5 902.6 L1605.1 904.2 L1609.4 905.1 L1611.9 905.6 L1614.3 907.5 L1617.6 907.8 L1620.8 908.5 L1624.4 909.6 L1628.0 910.7 L1630.9 911.8 L1633.9 912.9 L1635.8 914.0 L1637.8 916.2 L1639.1 918.2 L1640.4 921.0 L1641.7 922.4 L1642.9 924.8 L1645.1 927.1 L1647.0 928.5 L1650.0 931.5 L1652.3 934.1 L1654.6 938.1 L1656.5 939.6 L1658.4 941.5 L1660.3 944.9 L1662.3 946.0 L1664.3 948.2 L1666.3 951.2 L1669.3 952.0 L1672.2 953.9 L1675.4 957.5 L1678.5 959.5 L1681.0 958.8 L1683.4 960.6 L1685.9 962.9 L1689.0 962.3 L1692.1 964.7 L1695.2 966.3 L1697.8 967.9 L1700.4 967.5 L1703.0 971.0 L1705.6 971.3 L1708.1 972.7 L1710.5 973.3 L1712.9 972.8 L1715.3 975.6 L1718.0 975.9 L1720.7 978.3 L1723.5 979.2 L1726.0 980.6 L1728.4 982.0 L1730.9 983.8 L1733.3 985.2 L1735.6 984.9 L1738.0 987.0 L1740.3 989.5 L1742.5 990.0 L1744.8 990.5 L1748.0 992.6 L1751.3 994.4 L1754.5 996.6 L1757.7 997.0 L1760.9 997.3 L1764.1 998.0 L1767.3 995.0 L1770.5 994.9 L1773.9 993.9 L1777.3 994.5 L1779.8 996.7 L1782.3 997.0 L1784.7 998.3 L1787.3 996.9 L1789.9 999.0 L1792.5 1001.6 L1795.0 1003.1 L1797.5 1004.4 L1800.0 1005.4 L1802.3 1006.8 L1804.5 1008.5 L1806.8 1010.3 L1809.0 1013.0 L1811.2 1014.1 L1813.3 1016.5 L1815.5 1019.2 L1817.6 1018.7 L1819.8 1021.0 L1823.0 1023.6 L1826.2 1024.7 L1829.4 1025.9 L1832.7 1028.4 L1836.0 1028.8 L1839.4 1029.4 L1842.9 1031.9 L1846.4 1033.6 L1848.8 1032.2 L1851.3 1033.4 L1853.7 1034.8 L1856.5 1034.6 L1859.2 1037.4 L1862.0 1036.3 L1865.4 1035.3 L1868.8 1035.6 L1872.2 1034.4 L1875.0 1033.7 L1877.8 1033.7 L1880.5 1035.0 L1883.3 1031.2 L1886.5 1032.3 L1889.8 1032.6 L1893.0 1031.4 L1896.4 1033.1 L1899.9 1032.2 L1902.6 1033.1 L1905.3 1033.9 L1908.2 1034.3 L1911.0 1036.8 L1914.1 1036.0 L1917.1 1038.0 L1920.3 1038.7 L1923.4 1039.8 L1927.1 1038.7 L1930.8 1040.8 L1933.6 1040.7 L1936.3 1040.2 L1939.1 1040.1 L1942.2 1038.6 L1945.3 1037.3 L1948.5 1037.1 L1951.3 1036.9 L1954.2 1035.0 L1957.1 1033.8 L1960.0 1034.0 L1963.1 1035.0 L1966.2 1034.6 L1969.3 1032.7 L1972.4 1033.1 L1975.5 1033.1 L1978.4 1033.5 L1981.4 1031.6 L1984.3 1031.7 L1987.2 1032.8 L1990.2 1033.4 L1993.1 1031.8 L1996.3 1029.8 L1999.5 1030.9 L2002.7 1029.9 L2005.8 1029.8 L2009.0 1029.3 L2012.0 1028.9 L2014.9 1029.0 L2017.9 1030.3 L2020.9 1028.8 L2024.3 1028.5 L2027.6 1027.8 L2031.0 1027.1 L2033.7 1027.0 L2036.4 1027.9 L2039.1 1027.3 L2041.8 1027.3 L2045.1 1026.2 L2048.4 1025.6 L2051.8 1024.0 L2055.1 1025.2 L2057.9 1023.3 L2060.7 1025.7 L2063.5 1023.6 L2066.2 1023.9 L2069.0 1022.9 L2072.0 1022.6 L2075.0 1021.7 L2078.0 1022.9 L2081.0 1021.5 L2083.9 1019.1 L2086.7 1017.1 L2089.6 1017.3 L2091.8 1015.4 L2093.9 1013.2 L2096.1 1012.9 L2099.1 1011.1 L2102.0 1010.1 L2104.5 1010.2 L2107.1 1011.1 L2109.3 1012.8 L2111.5 1014.1 L2114.1 1017.0 L2116.8 1018.2 L2119.3 1017.1 L2121.7 1019.2 L2124.2 1020.2 L2127.0 1020.2 L2129.7 1021.5 L2132.5 1020.7 L2136.1 1021.1 L2139.7 1020.7 L2144.1 1020.6 L2147.4 1019.2 L2150.1 1019.2 L2152.8 1019.9 L2155.9 1020.5 L2159.1 1021.4 L2162.2 1020.8 L2165.1 1020.2 L2168.0 1021.8 L2170.9 1021.6 L2173.8 1023.0 L2176.7 1024.0 L2179.6 1023.4 L2182.5 1021.8 L2185.4 1022.7 L2188.2 1023.1 L2191.1 1022.2 L2193.9 1023.2 L2196.7 1023.0 L2199.6 1023.1 L2202.4 1022.4 L2205.3 1021.2 L2208.1 1021.3 L2211.4 1021.5 L2214.7 1022.6 L2218.0 1022.2 L2220.5 1022.5 L2223.1 1022.2 L2225.6 1022.4 L2228.7 1023.4 L2231.8 1024.0 L2234.7 1024.7 L2237.7 1023.9 L2241.0 1026.3 L2244.3 1026.4 L2247.4 1026.6 L2250.6 1027.8 L2252.8 1028.4 L2255.0 1029.0" stroke="#36a52f"/>
<path d="M265.0 2139.8 L266.6 2138.2 L268.2 2135.8 L269.8 2132.0 L271.4 2129.8 L272.8 2133.1 L274.2 2136.2 L275.6 2138.3 L277.0 2140.5 L280.5 2139.7 L284.0 2139.6 L287.0 2139.0 L290.0 2141.4 L292.1 2139.2 L294.2 2137.1 L296.3 2134.9 L299.1 2136.9 L302.0 2140.0 L304.0 2143.1 L305.9 2143.5 L307.9 2145.4 L310.6 2142.8 L313.3 2141.5 L316.0 2140.3 L318.7 2141.5 L321.3 2141.8 L324.0 2142.3 L327.0 2142.1 L330.0 2141.6 L333.0 2141.4 L335.7 2142.1 L338.4 2144.1 L341.1 2144.4 L343.8 2144.9 L345.9 2142.2 L347.9 2140.4 L350.0 2137.8 L352.2 2134.5 L354.4 2132.1 L356.6 2130.1 L357.7 2132.8 L358.9 2135.7 L360.0 2137.8 L361.3 2140.7 L362.7 2143.6 L364.0 2145.7 L366.5 2145.0 L369.0 2141.8 L371.2 2145.0 L373.4 2148.1 L375.9 2145.4 L378.5 2143.3 L381.0 2141.1 L383.5 2142.0 L386.0 2142.8 L388.2 2144.4 L390.3 2146.3 L392.5 2147.4 L395.0 2145.5 L397.5 2142.0 L400.0 2140.1 L402.5 2138.9 L405.0 2139.0 L407.0 2136.5 L409.0 2134.4 L411.0 2132.0 L412.3 2135.6 L413.7 2139.4 L415.0 2141.5 L416.0 2145.7 L417.0 2149.1 L418.0 2152.5 L419.0 2149.0 L420.0 2146.8 L421.0 2143.2 L422.0 2140.2 L423.9 2137.8 L425.9 2135.9 L427.9 2134.2 L429.9 2131.4 L431.9 2128.1 L433.9 2130.1 L435.9 2132.7 L438.0 2133.7 L440.0 2136.0 L441.8 2133.9 L443.5 2132.3 L445.2 2129.9 L447.0 2127.1 L448.4 2124.9 L449.9 2121.4 L451.4 2118.4 L452.8 2117.1 L454.2 2112.8 L455.7 2110.5 L457.0 2107.9 L458.4 2105.1 L459.7 2102.5 L462.0 2101.5 L464.4 2100.1 L466.7 2098.2 L467.0 2095.0 L467.3 2091.7 L467.6 2088.2 L467.8 2084.7 L468.1 2081.3 L468.4 2077.8 L468.7 2074.4 L469.7 2071.2 L470.7 2068.7 L471.6 2064.8 L472.6 2061.1 L473.6 2058.6 L473.8 2061.5 L473.9 2064.6 L474.1 2067.6 L474.3 2070.5 L474.4 2073.5 L474.6 2076.5 L475.4 2073.5 L476.3 2069.7 L477.1 2066.6 L477.9 2063.9 L478.8 2059.7 L479.6 2056.6 L481.6 2059.6 L483.6 2062.8 L484.0 2059.4 L484.4 2056.3 L484.7 2053.0 L485.1 2049.7 L485.5 2046.3 L485.9 2043.2 L486.2 2039.8 L486.6 2036.8 L488.6 2038.7 L490.5 2041.1 L491.2 2037.6 L492.0 2034.8 L492.8 2031.8 L493.5 2028.9 L494.5 2031.8 L495.5 2034.6 L496.5 2037.6 L497.5 2040.5 L498.5 2043.4 L499.5 2046.5 L500.7 2043.3 L501.9 2041.9 L503.1 2038.0 L504.3 2035.0 L505.5 2033.0 L506.0 2029.8 L506.5 2026.7 L507.0 2024.0 L507.5 2021.1 L508.0 2017.6 L508.5 2015.0 L510.8 2013.2 L513.1 2011.7 L515.4 2008.7 L515.9 2006.2 L516.4 2003.1 L516.9 1999.5 L517.4 1997.2 L517.9 1994.2 L518.4 1990.7 L518.9 1988.1 L519.4 1985.0 L521.4 1988.1 L523.4 1990.4 L525.4 1994.3 L527.4 1997.2 L528.2 1993.7 L529.0 1990.5 L529.7 1986.9 L530.5 1984.3 L531.3 1980.8 L533.8 1984.0 L536.3 1986.7 L536.9 1984.3 L537.5 1980.6 L538.1 1977.7 L538.7 1974.2 L539.3 1971.0 L539.9 1968.0 L540.5 1964.7 L541.1 1962.0 L541.7 1958.3 L542.3 1955.3 L545.8 1955.3 L549.3 1956.7 L550.4 1954.4 L551.6 1950.6 L552.8 1948.9 L553.9 1945.4 L555.1 1942.2 L556.2 1939.6 L556.6 1936.0 L557.1 1932.8 L557.5 1929.4 L557.9 1926.4 L558.3 1923.5 L558.8 1920.1 L559.2 1917.4 L560.4 1920.5 L561.6 1923.1 L562.8 1924.9 L564.0 1928.1 L565.2 1930.8 L566.6 1928.7 L568.0 1926.0 L569.4 1922.6 L570.9 1919.9 L572.3 1917.1 L573.7 1914.5 L575.1 1911.0 L576.3 1913.7 L577.5 1917.2 L578.7 1919.9 L579.9 1922.7 L581.1 1925.3 L581.5 1922.1 L581.8 1918.8 L582.2 1915.4 L582.5 1912.4 L582.9 1909.1 L583.2 1905.6 L583.6 1902.4 L584.0 1899.0 L584.3 1895.7 L584.7 1892.5 L585.0 1889.1 L585.4 1886.0 L585.7 1882.8 L586.1 1879.5 L588.1 1881.2 L590.0 1884.7 L592.0 1887.3 L592.5 1884.1 L593.1 1881.3 L593.6 1877.7 L594.2 1874.8 L594.7 1871.1 L595.2 1868.3 L595.8 1864.9 L596.3 1862.0 L596.8 1858.6 L597.4 1855.2 L597.9 1852.2 L598.5 1849.2 L599.0 1845.8 L599.8 1843.0 L600.5 1839.4 L601.3 1836.9 L602.1 1833.1 L602.8 1830.1 L603.6 1826.8 L604.9 1823.8 L606.2 1820.2 L607.4 1817.8 L608.7 1814.2 L610.2 1813.1 L611.8 1810.0 L613.3 1807.8 L614.9 1805.0 L616.4 1801.9 L618.3 1804.7 L620.2 1807.0 L622.1 1808.2 L624.0 1811.5 L627.9 1814.4 L628.5 1811.6 L629.2 1807.9 L629.8 1805.0 L630.5 1801.7 L631.1 1798.8 L631.7 1795.6 L632.4 1792.0 L633.0 1788.9 L633.5 1792.4 L634.0 1795.5 L634.6 1798.5 L635.1 1801.8 L635.6 1804.8 L636.1 1808.1 L636.7 1811.1 L637.2 1814.4 L637.7 1817.8 L638.2 1820.9 L638.8 1824.1 L639.3 1827.0 L639.7 1824.1 L640.1 1820.8 L640.5 1817.7 L640.9 1814.7 L641.3 1811.4 L641.7 1808.5 L642.1 1805.1 L642.5 1802.5 L642.9 1799.3 L643.3 1796.2 L643.7 1792.9 L644.1 1789.9 L644.5 1786.8 L644.9 1783.5 L645.3 1780.6 L645.7 1777.5 L646.7 1780.7 L647.7 1783.7 L648.8 1786.6 L649.8 1788.3 L650.8 1791.3 L653.0 1794.5 L655.2 1796.0 L657.5 1798.1 L659.7 1799.6 L660.2 1796.3 L660.6 1793.5 L661.1 1790.2 L661.6 1787.1 L662.0 1783.7 L662.5 1780.8 L663.0 1777.9 L663.4 1774.7 L663.9 1771.7 L664.4 1768.4 L664.8 1765.5 L665.3 1762.2 L665.9 1765.3 L666.5 1768.7 L667.1 1771.9 L667.7 1774.6 L668.3 1777.7 L668.9 1780.8 L669.5 1783.8 L670.1 1787.0 L670.7 1790.2 L671.3 1793.2 L671.9 1796.2 L672.5 1799.4 L675.0 1795.5 L677.5 1794.1 L680.0 1792.4 L680.6 1788.3 L681.3 1785.3 L681.9 1782.3 L682.5 1779.4 L683.2 1776.0 L683.8 1772.7 L684.4 1770.2 L685.1 1766.2 L685.7 1763.5 L686.7 1766.3 L687.7 1768.7 L688.7 1773.0 L689.6 1776.2 L690.6 1777.9 L691.6 1781.3 L693.7 1784.2 L695.9 1787.8 L698.0 1790.2 L700.0 1788.4 L702.1 1786.1 L704.1 1783.4 L706.2 1781.2 L708.2 1779.5 L708.9 1775.7 L709.7 1772.5 L710.4 1769.0 L711.1 1765.9 L711.8 1762.9 L712.6 1759.2 L713.3 1755.8 L713.8 1758.8 L714.2 1762.2 L714.7 1765.0 L715.1 1768.2 L715.6 1771.6 L716.1 1774.3 L716.5 1777.6 L717.0 1780.4 L717.4 1783.4 L717.9 1786.6 L718.1 1783.2 L718.4 1779.8 L718.6 1776.7 L718.9 1773.4 L719.1 1770.2 L719.3 1767.1 L719.6 1763.8 L719.8 1760.3 L720.0 1757.2 L720.3 1753.8 L720.5 1750.5 L720.8 1747.6 L721.0 1744.1 L721.2 1740.7 L721.5 1737.7 L721.7 1734.4 L722.0 1731.2 L722.2 1727.9 L722.5 1731.1 L722.8 1734.4 L723.2 1737.4 L723.5 1740.6 L723.8 1743.9 L724.1 1747.0 L724.4 1750.3 L724.8 1753.4 L725.1 1756.6 L725.4 1759.7 L725.7 1763.0 L726.0 1766.3 L726.3 1769.3 L726.7 1772.3 L727.0 1775.8 L727.3 1778.9 L728.3 1782.0 L729.2 1784.4 L730.2 1787.6 L731.1 1790.3 L732.1 1792.9 L733.1 1795.6 L734.0 1798.9 L735.0 1801.8 L735.7 1798.5 L736.4 1795.3 L737.1 1793.1 L737.9 1790.7 L738.6 1787.0 L739.3 1784.2 L740.0 1781.2 L741.6 1778.1 L743.2 1777.2 L744.8 1772.8 L746.4 1771.3 L747.2 1773.9 L748.1 1777.3 L749.0 1780.6 L749.8 1783.1 L750.6 1785.9 L751.5 1789.2 L753.8 1791.4 L756.0 1792.8 L758.2 1797.7 L760.5 1799.1 L761.0 1796.2 L761.6 1793.3 L762.1 1789.9 L762.6 1786.6 L763.2 1783.7 L763.7 1780.0 L764.2 1776.7 L764.8 1773.6 L765.3 1770.6 L765.8 1767.4 L766.4 1764.1 L766.9 1761.2 L767.8 1764.5 L768.7 1767.6 L769.6 1770.7 L770.5 1774.1 L771.4 1777.5 L772.3 1780.6 L773.2 1784.5 L776.1 1786.9 L779.1 1787.8 L782.0 1789.0 L785.5 1788.7 L788.9 1791.5 L792.4 1791.3 L793.7 1795.1 L794.9 1797.9 L796.2 1800.2 L797.4 1803.9 L798.7 1806.9 L799.1 1803.7 L799.5 1800.6 L799.9 1797.5 L800.3 1794.3 L800.7 1791.3 L801.1 1788.1 L801.4 1784.9 L801.8 1781.7 L802.2 1778.5 L802.6 1775.4 L803.0 1772.3 L803.4 1769.2 L803.8 1766.0 L804.5 1768.6 L805.2 1772.1 L805.9 1774.9 L806.6 1778.1 L807.3 1781.8 L808.0 1784.4 L808.7 1786.6 L809.4 1789.8 L810.1 1793.5 L810.8 1796.1 L811.5 1799.1 L813.6 1796.3 L815.8 1795.7 L817.9 1793.7 L818.8 1790.7 L819.6 1787.4 L820.5 1784.2 L821.4 1780.9 L822.3 1777.5 L823.1 1774.7 L824.0 1771.5 L824.9 1773.8 L825.9 1777.0 L826.8 1780.7 L827.8 1782.5 L828.7 1785.4 L829.7 1788.9 L830.6 1791.8 L833.7 1791.0 L836.9 1791.2 L840.0 1789.8 L842.6 1791.3 L845.3 1792.4 L847.9 1793.8 L848.3 1796.9 L848.8 1800.4 L849.2 1803.5 L849.6 1806.8 L850.1 1809.8 L850.5 1812.9 L850.9 1816.2 L851.4 1819.4 L851.8 1822.7 L853.1 1819.8 L854.4 1817.5 L855.7 1814.9 L857.0 1811.7 L857.7 1814.8 L858.5 1818.6 L859.2 1821.2 L859.9 1825.0 L860.6 1827.6 L861.4 1830.4 L862.1 1833.6 L862.8 1836.8 L863.5 1840.8 L864.3 1842.8 L865.0 1846.0 L865.9 1843.0 L866.8 1840.3 L867.6 1837.9 L868.5 1834.4 L869.4 1830.7 L870.2 1828.4 L871.1 1825.3 L872.0 1821.6 L872.9 1818.9 L873.8 1815.8 L874.6 1812.5 L875.5 1809.4 L876.2 1812.3 L876.8 1815.5 L877.5 1818.2 L878.1 1821.5 L878.8 1824.4 L879.5 1826.7 L880.1 1830.2 L880.8 1833.0 L881.4 1830.0 L881.9 1826.6 L882.5 1823.7 L883.1 1820.5 L883.6 1817.3 L884.2 1814.1 L884.8 1810.5 L885.3 1807.6 L885.9 1804.6 L886.4 1801.4 L887.0 1798.2 L887.6 1794.9 L888.1 1791.7 L888.7 1788.3 L889.0 1791.6 L889.2 1795.0 L889.5 1798.4 L889.7 1801.6 L890.0 1804.9 L890.2 1808.2 L890.5 1811.6 L890.7 1814.7 L891.0 1818.0 L891.2 1821.3 L891.5 1824.7 L891.7 1827.9 L892.0 1831.1 L892.2 1834.4 L892.5 1837.6 L892.7 1841.0 L893.2 1837.9 L893.8 1834.5 L894.3 1831.1 L894.9 1827.7 L895.4 1824.5 L896.0 1821.4 L896.5 1818.1 L897.0 1814.8 L897.6 1811.6 L898.1 1808.4 L898.7 1804.9 L899.2 1801.7 L902.3 1799.0 L905.4 1799.5 L908.5 1797.6 L909.0 1801.0 L909.5 1804.1 L910.1 1807.5 L910.6 1810.7 L911.1 1814.1 L911.6 1817.3 L912.1 1820.9 L912.7 1824.0 L913.2 1827.3 L913.7 1830.5 L916.3 1829.7 L919.0 1828.4 L921.6 1827.7 L921.9 1831.2 L922.3 1834.3 L922.6 1837.4 L923.0 1840.7 L923.3 1844.2 L923.7 1847.2 L924.0 1850.3 L924.4 1853.5 L924.7 1856.7 L925.1 1859.9 L925.4 1863.3 L925.8 1866.4 L926.1 1869.4 L926.5 1872.4 L926.8 1875.7 L927.2 1879.0 L927.5 1882.1 L927.9 1885.4 L928.2 1888.5 L930.9 1886.1 L933.5 1883.2 L934.3 1885.9 L935.1 1888.6 L935.9 1891.9 L936.8 1894.8 L937.6 1897.7 L938.4 1901.0 L939.2 1904.4 L940.0 1906.9 L943.1 1905.9 L946.2 1904.5 L949.3 1904.4 L949.8 1907.3 L950.3 1910.3 L950.8 1913.5 L951.2 1916.2 L951.7 1919.3 L952.2 1922.0 L952.7 1925.1 L953.2 1927.9 L953.7 1924.9 L954.3 1921.7 L954.8 1917.9 L955.3 1914.7 L955.9 1911.6 L956.4 1908.2 L956.9 1905.1 L957.4 1901.1 L958.0 1898.2 L958.5 1895.1 L961.8 1895.2 L965.0 1894.6 L965.3 1898.4 L965.6 1901.6 L965.9 1904.9 L966.1 1908.1 L966.4 1911.4 L966.7 1914.8 L967.0 1917.9 L967.3 1921.0 L967.6 1924.6 L967.9 1927.6 L968.1 1931.2 L968.4 1934.4 L968.7 1937.8 L969.0 1940.9 L969.7 1938.1 L970.3 1934.9 L971.0 1931.9 L971.6 1928.9 L972.3 1925.8 L973.0 1923.4 L973.6 1919.9 L974.3 1917.0 L974.9 1913.9 L975.6 1911.0 L976.5 1913.9 L977.4 1916.6 L978.2 1919.5 L979.1 1922.4 L980.0 1925.3 L980.9 1928.2 L982.4 1925.3 L983.9 1922.6 L985.5 1920.3 L987.0 1917.3 L988.5 1914.9 L990.0 1912.2 L990.8 1914.3 L991.7 1918.0 L992.5 1920.9 L993.4 1923.5 L994.2 1926.6 L995.0 1929.6 L995.9 1933.3 L996.7 1936.2 L999.3 1935.6 L1002.0 1935.0 L1004.6 1934.2 L1005.4 1932.3 L1006.2 1929.2 L1006.9 1925.9 L1007.7 1922.7 L1008.5 1920.0 L1009.1 1923.0 L1009.8 1926.1 L1010.5 1929.3 L1011.1 1932.5 L1011.8 1935.7 L1012.4 1939.1 L1013.0 1942.0 L1013.7 1945.5 L1014.4 1948.6 L1015.0 1951.8 L1017.0 1950.7 L1019.0 1949.4 L1021.0 1946.5 L1023.0 1943.7 L1023.9 1946.8 L1024.8 1950.8 L1025.7 1952.6 L1026.5 1956.0 L1027.4 1959.4 L1028.3 1962.0 L1029.6 1959.1 L1030.9 1956.6 L1032.2 1953.1 L1033.5 1949.6 L1034.8 1946.6 L1036.0 1949.5 L1037.1 1952.6 L1038.2 1955.5 L1039.4 1958.1 L1040.5 1961.2 L1041.7 1964.2 L1042.8 1967.0 L1044.0 1969.9 L1045.1 1967.3 L1046.2 1963.1 L1047.3 1960.8 L1048.4 1958.2 L1049.5 1954.9 L1050.6 1951.5 L1051.3 1954.7 L1051.9 1958.5 L1052.6 1961.3 L1053.2 1964.3 L1053.9 1967.5 L1054.6 1970.6 L1055.2 1973.9 L1055.9 1976.8 L1056.5 1980.2 L1057.2 1983.3 L1058.3 1980.2 L1059.4 1977.3 L1060.5 1973.1 L1061.7 1970.5 L1062.8 1967.5 L1063.9 1964.3 L1065.0 1961.0 L1066.0 1964.2 L1066.9 1967.4 L1067.9 1969.9 L1068.8 1973.1 L1069.8 1976.3 L1070.7 1979.0 L1071.7 1982.2 L1072.9 1978.8 L1074.0 1976.6 L1075.2 1973.2 L1076.3 1970.8 L1077.5 1967.8 L1078.7 1963.9 L1079.8 1961.7 L1081.0 1958.4 L1082.1 1961.6 L1083.2 1964.6 L1084.3 1968.1 L1085.5 1971.0 L1086.6 1974.3 L1087.7 1977.5 L1088.8 1980.7 L1091.8 1979.9 L1094.8 1978.4 L1097.7 1978.8 L1100.7 1976.7 L1104.0 1978.6 L1107.2 1978.6 L1110.5 1978.9 L1113.8 1979.1 L1115.5 1976.5 L1117.1 1973.7 L1118.8 1970.2 L1120.4 1967.3 L1121.2 1970.3 L1121.9 1973.2 L1122.7 1976.7 L1123.4 1979.5 L1124.2 1983.0 L1124.9 1985.2 L1125.7 1988.4 L1126.6 1991.7 L1127.6 1994.5 L1128.5 1997.7 L1129.5 2000.3 L1130.4 2004.0 L1131.4 2006.5 L1132.3 2009.7 L1133.6 2006.9 L1134.9 2002.8 L1136.2 2000.0 L1137.5 1996.5 L1138.8 1994.0 L1141.1 1990.6 L1143.4 1989.6 L1145.7 1987.5 L1148.0 1986.4 L1148.9 1989.4 L1149.8 1991.8 L1150.7 1995.3 L1151.6 1997.8 L1152.4 2000.0 L1153.3 2003.3 L1154.2 2005.9 L1155.1 2009.4 L1156.0 2012.1 L1156.9 2009.1 L1157.9 2005.7 L1158.8 2002.9 L1159.7 1999.6 L1160.6 1997.0 L1161.6 1994.5 L1162.5 1991.0 L1164.5 1994.3 L1166.5 1995.6 L1168.5 1997.5 L1170.4 2000.3 L1172.4 2001.2 L1174.4 2005.1 L1176.6 2006.3 L1178.8 2007.1 L1181.0 2009.9 L1182.3 2005.9 L1183.6 2003.4 L1184.9 2000.3 L1186.2 1996.7 L1187.1 1999.1 L1188.1 2002.4 L1189.0 2005.9 L1190.0 2008.7 L1190.9 2011.7 L1191.9 2015.3 L1192.8 2017.7 L1194.1 2014.8 L1195.4 2011.7 L1196.7 2009.3 L1198.0 2006.6 L1199.8 2009.6 L1201.5 2013.1 L1203.3 2015.6 L1205.9 2013.5 L1208.6 2010.5 L1211.2 2008.5 L1213.0 2009.9 L1214.7 2012.7 L1216.5 2015.6 L1218.3 2018.3 L1220.0 2020.4 L1221.8 2021.6 L1223.4 2020.0 L1225.0 2016.5 L1226.5 2014.8 L1228.1 2011.7 L1229.7 2009.3 L1231.0 2012.0 L1232.3 2015.1 L1233.6 2017.5 L1234.4 2014.6 L1235.1 2011.5 L1235.9 2008.4 L1236.6 2005.8 L1237.4 2003.0 L1238.1 1999.3 L1238.9 1996.5 L1239.7 1999.2 L1240.5 2002.7 L1241.2 2005.6 L1242.0 2009.2 L1242.8 2012.1 L1245.7 2011.4 L1248.6 2011.3 L1251.5 2010.0 L1254.4 2007.1 L1257.3 2009.0 L1258.0 2005.7 L1258.6 2002.4 L1259.3 1999.7 L1259.9 1996.6 L1260.6 1993.1 L1261.3 1990.1 L1261.9 1987.9 L1262.6 1984.7 L1265.5 1987.1 L1268.5 1988.6 L1271.5 1988.5 L1274.4 1990.3 L1274.8 1993.4 L1275.3 1996.8 L1275.7 2000.1 L1276.2 2003.3 L1276.6 2006.7 L1277.1 2009.7 L1277.5 2013.4 L1278.0 2016.6 L1278.4 2019.9 L1279.1 2017.2 L1279.7 2014.2 L1280.4 2011.3 L1281.1 2008.1 L1281.7 2005.2 L1282.4 2002.3 L1283.0 1999.4 L1283.7 1996.4 L1284.8 1999.1 L1285.9 2002.6 L1287.0 2005.2 L1288.2 2008.5 L1289.3 2011.1 L1290.4 2013.6 L1291.5 2017.5 L1293.5 2014.8 L1295.5 2011.5 L1297.4 2009.2 L1299.4 2005.8 L1300.0 2008.9 L1300.6 2012.4 L1301.2 2015.4 L1301.8 2018.5 L1302.4 2021.9 L1303.0 2025.0 L1303.6 2028.1 L1304.2 2031.6 L1304.8 2034.7 L1305.4 2037.8 L1306.0 2041.2 L1306.6 2044.6 L1309.7 2043.6 L1312.7 2041.7 L1315.8 2038.5 L1317.3 2041.0 L1318.8 2044.6 L1320.3 2047.5 L1321.8 2050.6 L1323.3 2053.2 L1324.8 2056.4 L1326.3 2058.5 L1329.4 2058.5 L1332.6 2057.2 L1335.7 2057.1 L1338.9 2056.1 L1342.0 2054.2 L1343.0 2057.7 L1343.9 2061.0 L1344.9 2063.7 L1345.8 2066.5 L1346.8 2068.8 L1347.7 2071.6 L1348.7 2074.8 L1350.5 2071.3 L1352.2 2069.8 L1354.0 2066.6 L1355.7 2064.7 L1357.5 2062.3 L1359.2 2058.8 L1360.5 2061.4 L1361.8 2064.3 L1363.2 2067.6 L1364.5 2069.1 L1365.8 2073.6 L1367.1 2076.2 L1368.4 2079.5 L1369.8 2082.9 L1371.1 2083.9 L1372.4 2087.4 L1375.0 2085.1 L1377.7 2081.4 L1380.3 2079.9 L1381.1 2077.2 L1381.9 2073.2 L1382.7 2070.1 L1383.5 2067.1 L1384.3 2064.1 L1385.2 2066.6 L1386.2 2070.2 L1387.1 2073.0 L1388.0 2075.9 L1388.9 2078.4 L1389.9 2082.0 L1390.8 2085.0 L1393.9 2083.2 L1396.9 2084.9 L1400.0 2082.5 L1401.7 2085.0 L1403.3 2088.6 L1404.9 2091.2 L1406.6 2094.4 L1408.2 2091.0 L1409.9 2089.6 L1411.5 2086.5 L1413.2 2083.7 L1416.7 2084.8 L1420.2 2083.9 L1423.7 2085.2 L1425.9 2087.3 L1428.1 2089.7 L1430.3 2091.9 L1432.5 2093.3 L1434.7 2095.3 L1436.9 2096.7 L1438.6 2092.8 L1440.3 2092.2 L1442.0 2089.3 L1443.6 2090.6 L1445.2 2092.4 L1446.8 2095.4 L1448.4 2097.7 L1450.0 2101.1 L1452.1 2099.1 L1454.2 2095.8 L1456.4 2092.9 L1458.5 2091.8 L1460.6 2088.9 L1461.9 2091.5 L1463.2 2095.1 L1464.4 2098.7 L1465.7 2101.8 L1467.0 2104.5 L1468.4 2101.6 L1469.8 2098.9 L1471.1 2096.5 L1472.5 2093.1 L1473.4 2096.8 L1474.2 2099.3 L1475.1 2102.9 L1476.0 2105.9 L1476.8 2109.9 L1477.7 2112.5 L1478.4 2109.6 L1479.0 2106.8 L1479.7 2103.3 L1480.3 2100.4 L1481.0 2097.0 L1481.7 2094.1 L1482.3 2091.5 L1483.0 2087.7 L1483.9 2090.8 L1484.8 2094.1 L1485.7 2097.1 L1486.5 2100.6 L1487.4 2102.7 L1488.3 2106.3 L1489.8 2103.3 L1491.4 2099.7 L1492.9 2096.8 L1494.5 2093.3 L1496.0 2090.8 L1498.0 2093.1 L1500.0 2095.0 L1502.0 2098.1 L1504.0 2098.8 L1506.0 2102.4 L1508.0 2104.4 L1509.8 2102.5 L1511.5 2099.6 L1513.2 2096.7 L1515.0 2094.1 L1516.8 2091.6 L1518.5 2089.1 L1520.5 2092.0 L1522.5 2094.9 L1524.4 2098.3 L1526.4 2100.1 L1529.0 2102.3 L1531.7 2105.0 L1534.3 2107.5 L1535.6 2104.9 L1536.9 2101.1 L1538.2 2098.6 L1539.4 2094.7 L1540.7 2091.4 L1542.0 2088.8 L1542.9 2092.3 L1543.8 2095.2 L1544.8 2097.8 L1545.7 2100.4 L1546.6 2104.5 L1547.5 2107.7 L1550.5 2105.5 L1553.4 2103.4 L1556.3 2102.6 L1559.3 2100.9 L1561.4 2103.7 L1563.4 2107.3 L1565.5 2108.8 L1567.6 2110.5 L1569.7 2114.6 L1571.7 2115.6 L1573.8 2119.8 L1575.4 2116.8 L1577.0 2114.4 L1578.6 2111.6 L1580.2 2108.8 L1581.9 2105.7 L1583.5 2103.7 L1585.1 2100.9 L1586.7 2096.8 L1588.3 2096.0 L1589.8 2098.0 L1591.3 2101.9 L1592.8 2104.8 L1594.3 2106.3 L1595.8 2109.5 L1597.3 2113.1 L1598.8 2115.5 L1601.9 2114.1 L1604.9 2113.0 L1608.0 2114.5 L1610.1 2111.6 L1612.2 2110.4 L1614.4 2106.4 L1616.5 2105.4 L1618.6 2102.3 L1620.5 2103.8 L1622.4 2108.2 L1624.3 2110.0 L1626.1 2112.7 L1628.0 2115.9 L1629.9 2119.2 L1631.8 2121.2 L1634.4 2120.8 L1637.0 2119.4 L1639.7 2119.1 L1642.3 2116.7 L1644.5 2114.7 L1646.7 2111.9 L1648.9 2109.1 L1651.0 2111.8 L1653.0 2114.5 L1655.1 2117.1 L1657.1 2119.1 L1659.2 2121.7 L1661.2 2124.2 L1663.3 2126.1 L1664.9 2123.1 L1666.5 2120.9 L1668.0 2117.3 L1669.6 2114.8 L1671.2 2111.0 L1673.2 2115.4 L1675.1 2117.1 L1677.0 2119.4 L1679.0 2122.0 L1681.7 2120.0 L1684.3 2118.1 L1687.0 2117.5 L1689.7 2118.4 L1692.3 2119.2 L1695.0 2121.5 L1698.9 2121.4 L1702.8 2121.3 L1704.9 2123.1 L1707.0 2124.5 L1709.2 2126.5 L1711.3 2129.4 L1713.4 2131.5 L1714.7 2128.3 L1716.0 2125.1 L1717.3 2121.7 L1718.6 2119.1 L1721.9 2119.4 L1725.2 2118.7 L1728.5 2119.2 L1731.8 2119.1 L1733.7 2122.1 L1735.6 2125.9 L1737.5 2128.4 L1739.3 2131.1 L1741.2 2133.3 L1743.1 2136.0 L1745.0 2139.7 L1747.1 2136.8 L1749.2 2134.3 L1751.3 2129.4 L1753.4 2129.6 L1755.5 2126.5 L1757.5 2122.9 L1759.5 2121.0 L1761.4 2119.4 L1763.4 2117.2 L1766.9 2117.3 L1770.5 2117.7 L1774.0 2117.9 L1775.5 2120.8 L1777.0 2124.7 L1778.5 2127.5 L1780.0 2130.1 L1782.6 2128.4 L1785.2 2127.0 L1787.9 2126.2 L1790.5 2124.5 L1793.2 2128.0 L1795.8 2129.9 L1799.1 2128.6 L1802.4 2125.4 L1804.1 2129.3 L1805.9 2132.3 L1807.6 2135.5 L1810.5 2134.0 L1813.4 2133.9 L1816.2 2133.0 L1819.1 2132.6 L1822.0 2131.7 L1824.0 2132.5 L1826.0 2136.8 L1828.0 2139.0 L1830.0 2140.5 L1831.3 2137.7 L1832.6 2136.4 L1834.0 2132.7 L1835.3 2129.4 L1836.6 2126.2 L1838.9 2128.0 L1841.2 2129.5 L1843.5 2132.9 L1845.8 2135.1 L1849.1 2134.7 L1852.4 2134.9 L1855.7 2134.1 L1859.0 2133.3 L1861.0 2132.1 L1863.0 2130.9 L1864.9 2128.0 L1866.9 2126.4 L1868.7 2129.1 L1870.5 2132.3 L1872.4 2134.8 L1874.2 2137.8 L1876.0 2140.1 L1877.5 2138.4 L1879.1 2134.4 L1880.7 2131.5 L1882.2 2128.9 L1883.8 2126.4 L1885.3 2123.5 L1887.5 2126.4 L1889.8 2128.4 L1892.0 2131.2 L1894.0 2128.9 L1895.9 2126.5 L1897.8 2124.1 L1899.8 2121.3 L1901.8 2119.8 L1903.7 2117.4 L1905.7 2119.5 L1907.7 2122.7 L1909.6 2123.3 L1911.6 2125.6 L1913.9 2126.5 L1916.2 2129.1 L1918.6 2130.6 L1920.9 2132.3 L1923.1 2129.4 L1925.2 2127.2 L1927.4 2124.3 L1931.3 2124.5 L1935.3 2126.1 L1937.9 2126.1 L1940.6 2130.0 L1943.2 2131.6 L1945.9 2134.7 L1948.5 2136.0 L1951.1 2133.4 L1953.8 2133.2 L1956.4 2130.6 L1959.0 2130.1 L1960.5 2126.8 L1962.1 2123.7 L1963.7 2121.7 L1965.2 2119.3 L1966.8 2116.2 L1968.3 2112.7 L1969.9 2115.2 L1971.5 2118.4 L1973.2 2120.4 L1974.8 2123.7 L1977.5 2122.5 L1980.1 2121.6 L1982.8 2119.9 L1985.4 2118.1 L1988.7 2120.3 L1992.0 2120.1 L1995.2 2120.4 L1998.5 2122.2 L2002.0 2121.9 L2005.5 2119.5 L2009.0 2119.5 L2010.8 2123.0 L2012.5 2124.7 L2014.3 2127.8 L2016.9 2125.4 L2019.4 2122.6 L2022.0 2119.3 L2024.3 2120.8 L2026.5 2122.7 L2028.8 2125.0 L2030.5 2121.9 L2032.3 2118.9 L2034.0 2118.4 L2035.3 2120.0 L2036.7 2123.6 L2038.0 2125.6 L2039.3 2128.6 L2041.7 2128.2 L2044.1 2126.0 L2046.6 2122.7 L2049.0 2120.9 L2051.4 2119.2 L2053.8 2116.9 L2056.4 2117.6 L2059.1 2118.9 L2061.7 2119.3 L2064.0 2117.5 L2066.3 2115.9 L2068.7 2113.7 L2071.0 2111.3 L2072.9 2115.1 L2074.9 2118.3 L2077.5 2115.6 L2080.2 2113.1 L2082.8 2110.7 L2086.8 2109.9 L2090.7 2110.3 L2091.8 2113.7 L2093.0 2116.7 L2094.1 2119.8 L2095.2 2122.7 L2096.3 2126.3 L2097.5 2129.2 L2098.6 2132.6 L2099.9 2130.0 L2101.2 2127.0 L2102.5 2124.3 L2103.9 2121.2 L2105.2 2118.8 L2106.5 2115.9 L2107.8 2113.0 L2111.8 2114.3 L2115.7 2114.0 L2118.0 2116.8 L2120.3 2119.6 L2122.7 2122.1 L2125.0 2123.8 L2127.6 2121.5 L2130.2 2120.3 L2132.8 2117.6 L2135.4 2117.6 L2138.0 2117.4 L2140.7 2119.9 L2143.3 2121.9 L2146.4 2119.6 L2149.5 2119.2 L2152.6 2117.3 L2154.6 2115.2 L2156.6 2113.9 L2158.5 2111.7 L2160.5 2109.0 L2162.5 2112.2 L2164.4 2114.5 L2166.4 2118.4 L2168.4 2120.1 L2170.3 2122.6 L2172.3 2125.9 L2173.8 2123.5 L2175.4 2120.0 L2176.9 2118.3 L2178.4 2114.8 L2180.0 2112.7 L2181.5 2109.7 L2183.5 2112.6 L2185.4 2116.1 L2187.4 2117.7 L2189.4 2121.0 L2191.7 2117.9 L2194.0 2116.2 L2196.4 2114.3 L2198.7 2110.0 L2201.0 2108.1 L2203.7 2110.7 L2206.4 2113.0 L2209.1 2114.6 L2211.8 2116.8 L2213.9 2114.3 L2216.0 2111.9 L2218.1 2108.6 L2220.2 2106.6 L2222.3 2103.2 L2225.8 2104.0 L2229.4 2104.8 L2232.9 2106.6 L2235.5 2109.3 L2238.1 2110.0 L2240.7 2113.0 L2243.2 2114.6 L2245.8 2114.3 L2248.4 2118.0 L2251.0 2119.5 L2255.0 2117.0" stroke="#811b8b"/>
<path d="M265.0 2142.1 L267.9 2139.7 L270.9 2138.1 L272.6 2139.3 L274.4 2141.0 L276.1 2144.7 L277.8 2147.1 L280.1 2145.2 L282.5 2143.3 L284.8 2141.0 L289.4 2139.6 L291.7 2141.1 L294.0 2143.2 L296.4 2144.8 L298.7 2147.2 L301.0 2145.0 L303.3 2141.3 L305.6 2140.1 L309.1 2138.5 L312.5 2138.0 L316.0 2136.5 L318.7 2138.0 L321.4 2138.1 L324.1 2141.3 L327.2 2140.5 L330.3 2143.3 L333.4 2142.5 L336.5 2142.1 L339.6 2142.9 L342.7 2140.3 L345.8 2141.7 L348.8 2141.5 L351.9 2142.5 L355.0 2140.9 L358.1 2140.6 L361.2 2138.6 L364.7 2140.2 L368.1 2141.5 L371.6 2141.4 L374.0 2142.6 L376.3 2140.9 L377.6 2137.5 L379.0 2135.3 L380.3 2133.2 L382.0 2136.3 L383.8 2137.9 L385.5 2141.1 L388.6 2141.6 L391.7 2142.5 L394.8 2142.1 L397.9 2142.9 L401.0 2141.5 L404.1 2141.8 L406.8 2141.9 L409.5 2141.2 L412.2 2139.8 L416.8 2141.3 L418.0 2138.4 L419.1 2136.0 L420.3 2133.2 L421.8 2135.6 L423.4 2138.1 L424.9 2139.7 L427.8 2137.2 L430.7 2134.2 L433.6 2134.4 L436.5 2133.0 L439.4 2131.0 L442.3 2127.4 L444.6 2125.1 L446.9 2122.4 L447.8 2119.0 L448.6 2116.6 L449.5 2113.4 L449.7 2109.9 L449.8 2106.7 L450.0 2103.5 L450.2 2100.1 L450.4 2097.0 L450.5 2093.8 L450.7 2090.5 L451.4 2087.1 L452.2 2084.2 L452.9 2081.6 L453.7 2078.7 L454.9 2074.9 L456.1 2071.9 L457.3 2068.6 L458.5 2066.3 L459.7 2062.5 L460.7 2059.5 L461.7 2056.2 L462.7 2053.1 L463.7 2049.5 L464.7 2046.2 L465.7 2043.0 L466.6 2039.6 L467.4 2035.9 L468.3 2032.9 L469.1 2030.1 L470.0 2026.6 L470.9 2023.2 L471.7 2020.1 L472.6 2017.4 L473.4 2013.5 L474.3 2010.3 L475.1 2007.0 L475.9 2003.5 L476.8 2000.6 L477.6 1997.1 L478.6 1994.5 L479.6 1991.1 L480.6 1989.3 L483.1 1988.1 L485.6 1986.0 L486.2 1982.2 L486.7 1979.4 L487.3 1975.9 L487.9 1972.8 L488.5 1969.5 L489.0 1966.1 L489.6 1963.1 L490.1 1960.0 L490.7 1957.1 L491.2 1953.6 L491.8 1950.6 L492.3 1947.9 L492.9 1944.6 L493.4 1941.3 L494.0 1938.1 L494.5 1935.1 L494.8 1932.1 L495.2 1929.1 L495.5 1926.0 L495.8 1923.0 L496.2 1919.9 L496.5 1916.7 L496.8 1913.8 L497.2 1910.6 L497.5 1907.4 L499.0 1904.4 L500.5 1901.4 L504.0 1902.0 L507.5 1902.9 L508.0 1900.4 L508.5 1897.4 L508.9 1894.6 L509.4 1891.4 L509.9 1888.5 L510.4 1885.5 L512.9 1882.2 L515.4 1879.6 L515.9 1876.2 L516.4 1873.0 L516.9 1869.9 L517.4 1866.6 L517.9 1863.3 L518.4 1860.0 L518.9 1857.0 L519.4 1853.8 L519.7 1850.1 L520.0 1847.2 L520.4 1843.8 L520.7 1840.6 L521.0 1837.3 L521.4 1833.8 L521.7 1830.8 L522.0 1827.3 L523.9 1824.6 L525.9 1822.7 L527.8 1819.6 L529.7 1817.2 L530.4 1814.0 L531.2 1810.9 L531.9 1808.3 L532.6 1805.1 L533.3 1802.9 L534.1 1799.7 L534.8 1797.0 L536.1 1799.4 L537.3 1802.3 L538.6 1805.4 L539.9 1809.4 L540.1 1806.1 L540.3 1803.0 L540.4 1799.6 L540.6 1796.3 L540.8 1793.1 L541.0 1789.8 L541.1 1786.6 L541.3 1783.3 L541.5 1780.0 L541.7 1776.6 L541.9 1773.4 L542.0 1770.3 L542.2 1766.9 L542.4 1763.6 L542.8 1760.5 L543.2 1757.4 L543.7 1754.2 L544.1 1751.0 L544.5 1747.9 L544.9 1744.6 L545.4 1742.0 L545.8 1738.6 L546.2 1735.4 L547.5 1738.8 L548.8 1742.0 L550.0 1744.1 L551.3 1747.6 L552.6 1751.2 L554.3 1748.2 L556.0 1745.2 L557.7 1742.3 L560.3 1740.6 L562.8 1739.2 L565.4 1738.7 L565.9 1734.8 L566.5 1731.6 L567.0 1728.6 L567.5 1725.3 L568.0 1721.9 L568.5 1719.3 L569.1 1715.7 L569.6 1712.9 L570.1 1709.5 L570.7 1706.0 L571.2 1703.3 L571.7 1699.8 L572.3 1702.8 L573.0 1706.2 L573.6 1708.9 L574.2 1712.7 L574.9 1715.6 L575.5 1718.9 L576.2 1721.9 L576.8 1725.4 L577.2 1722.3 L577.5 1719.3 L577.9 1716.3 L578.3 1713.0 L578.6 1709.9 L579.0 1706.8 L579.3 1703.6 L579.7 1700.5 L580.1 1697.6 L580.4 1694.3 L580.8 1691.0 L581.2 1688.2 L581.5 1685.1 L581.9 1682.1 L582.3 1678.7 L582.8 1675.5 L583.2 1672.5 L583.6 1669.2 L584.0 1666.1 L584.5 1662.8 L584.9 1659.7 L585.3 1656.4 L585.7 1653.4 L586.1 1650.1 L586.6 1647.0 L587.0 1643.7 L587.4 1646.7 L587.8 1650.0 L588.2 1653.1 L588.5 1656.4 L588.9 1659.5 L589.3 1662.5 L589.7 1665.7 L590.1 1668.7 L590.5 1672.0 L590.8 1675.1 L591.2 1678.2 L591.6 1681.2 L592.0 1684.6 L592.3 1681.3 L592.6 1678.4 L592.9 1675.2 L593.2 1672.1 L593.5 1668.7 L593.8 1665.7 L594.1 1662.3 L594.4 1659.3 L594.8 1656.0 L595.1 1653.0 L595.4 1649.8 L595.7 1646.9 L596.0 1643.7 L596.3 1640.4 L596.6 1637.3 L596.9 1634.1 L597.2 1630.9 L597.4 1627.7 L597.6 1624.7 L597.8 1621.6 L598.0 1618.3 L598.2 1615.3 L598.4 1612.0 L598.6 1608.9 L598.8 1605.7 L599.0 1602.7 L599.2 1599.4 L599.4 1596.4 L599.6 1593.1 L599.8 1590.0 L600.6 1586.4 L601.3 1583.8 L602.1 1580.6 L602.8 1578.1 L603.6 1574.9 L604.0 1577.9 L604.3 1581.4 L604.7 1584.6 L605.0 1587.4 L605.4 1590.9 L605.7 1594.3 L606.1 1597.3 L606.4 1600.7 L606.8 1604.1 L607.1 1607.3 L607.5 1610.6 L607.8 1613.8 L608.2 1616.9 L608.4 1614.0 L608.6 1610.7 L608.8 1607.6 L609.0 1604.2 L609.2 1601.1 L609.4 1597.9 L609.6 1594.6 L609.8 1591.5 L610.0 1588.3 L610.2 1585.1 L610.4 1581.9 L610.6 1578.7 L610.8 1575.5 L611.0 1572.4 L611.2 1569.1 L611.4 1565.9 L611.6 1562.7 L611.8 1559.4 L614.8 1556.4 L617.7 1554.0 L618.1 1551.0 L618.5 1547.9 L619.0 1544.5 L619.4 1541.5 L619.8 1538.2 L620.2 1535.2 L620.6 1531.9 L621.1 1528.4 L621.5 1525.3 L621.9 1522.2 L622.3 1518.8 L622.7 1515.6 L623.2 1512.3 L623.6 1509.1 L624.0 1506.0 L625.0 1509.0 L626.0 1512.6 L627.0 1514.5 L628.0 1518.0 L629.0 1521.2 L630.5 1524.7 L631.9 1527.0 L633.4 1529.4 L634.8 1532.0 L636.3 1534.6 L636.7 1531.0 L637.2 1527.7 L637.6 1524.6 L638.0 1521.3 L638.5 1518.3 L638.9 1515.2 L639.3 1512.0 L639.7 1508.9 L640.2 1505.7 L640.6 1502.4 L641.0 1499.3 L641.5 1496.5 L641.9 1493.2 L643.2 1496.6 L644.5 1499.3 L645.7 1502.4 L647.0 1505.6 L648.3 1508.4 L648.6 1505.5 L648.9 1502.2 L649.2 1499.0 L649.5 1495.7 L649.8 1492.5 L650.1 1489.4 L650.5 1486.3 L650.8 1483.0 L651.1 1479.9 L651.4 1476.7 L651.7 1473.5 L652.0 1470.3 L652.2 1473.4 L652.5 1476.8 L652.7 1479.9 L652.9 1483.0 L653.2 1486.2 L653.4 1489.3 L653.7 1492.5 L653.9 1495.6 L654.1 1499.0 L654.4 1502.1 L654.6 1505.4 L654.8 1508.4 L655.1 1511.6 L655.3 1514.9 L655.5 1518.0 L655.8 1521.2 L656.0 1524.6 L656.3 1527.7 L656.5 1530.8 L656.7 1534.1 L657.0 1537.2 L657.2 1540.5 L657.7 1537.0 L658.2 1534.3 L658.7 1530.8 L659.2 1527.7 L659.7 1524.7 L660.2 1521.3 L660.7 1518.1 L661.3 1515.2 L661.8 1512.0 L662.3 1508.6 L662.8 1506.0 L663.3 1502.5 L663.8 1499.4 L664.3 1496.3 L664.8 1493.2 L665.5 1490.6 L666.3 1486.8 L667.0 1484.5 L667.7 1481.8 L668.4 1478.7 L669.2 1475.7 L669.9 1472.6 L670.3 1476.0 L670.7 1479.1 L671.1 1482.4 L671.5 1485.4 L671.8 1488.7 L672.2 1491.9 L672.6 1494.9 L673.0 1498.5 L673.4 1501.5 L673.8 1504.6 L674.2 1501.5 L674.7 1498.4 L675.1 1495.1 L675.6 1491.8 L676.0 1488.7 L676.5 1485.4 L676.9 1482.1 L677.4 1479.4 L677.8 1476.3 L678.2 1473.1 L678.7 1470.0 L679.1 1466.7 L679.6 1463.2 L680.0 1460.0 L680.5 1457.1 L680.9 1453.7 L681.4 1450.5 L681.8 1447.4 L682.3 1444.3 L682.7 1440.9 L683.4 1444.1 L684.2 1447.3 L684.9 1449.7 L685.6 1453.6 L686.3 1456.6 L687.1 1459.3 L687.8 1462.9 L688.2 1465.8 L688.6 1469.0 L689.0 1472.4 L689.4 1475.0 L689.8 1478.5 L690.2 1481.9 L690.6 1485.1 L691.0 1488.1 L691.4 1491.3 L691.8 1494.4 L692.2 1497.6 L692.6 1500.7 L693.0 1503.7 L693.4 1507.1 L693.8 1510.3 L694.2 1513.5 L696.8 1515.8 L699.3 1518.5 L700.1 1515.5 L700.9 1512.3 L701.7 1509.0 L702.5 1505.8 L703.2 1502.7 L704.0 1499.5 L704.8 1496.4 L705.6 1493.4 L706.9 1495.9 L708.2 1498.2 L709.5 1500.4 L709.9 1497.7 L710.2 1494.4 L710.5 1491.7 L710.9 1488.6 L711.2 1485.3 L711.6 1482.2 L711.9 1479.2 L712.3 1476.1 L712.6 1472.7 L713.0 1469.7 L713.4 1466.6 L713.7 1463.4 L714.0 1460.6 L714.4 1457.4 L714.8 1454.1 L715.1 1451.0 L715.4 1447.9 L715.8 1444.8 L716.3 1447.8 L716.9 1451.2 L717.4 1454.1 L718.0 1457.0 L718.5 1460.1 L719.1 1463.4 L719.6 1466.2 L720.2 1469.2 L720.8 1472.5 L721.3 1476.0 L721.9 1478.6 L722.4 1481.9 L723.0 1484.9 L723.5 1488.1 L724.1 1485.1 L724.8 1481.6 L725.4 1479.3 L726.1 1475.8 L726.7 1472.5 L727.3 1469.6 L728.0 1466.7 L728.6 1463.8 L729.3 1460.5 L729.9 1457.4 L732.4 1455.9 L735.0 1453.5 L737.5 1449.7 L738.0 1446.8 L738.5 1443.7 L739.0 1440.5 L739.5 1437.3 L739.9 1434.5 L740.4 1431.0 L740.9 1427.7 L741.4 1425.0 L741.9 1421.9 L742.4 1425.2 L742.8 1428.3 L743.2 1431.7 L743.7 1434.9 L744.1 1438.3 L744.6 1441.3 L745.0 1444.9 L745.5 1448.6 L745.9 1451.5 L746.4 1455.2 L747.0 1451.7 L747.5 1448.1 L748.1 1445.3 L748.6 1441.7 L749.2 1438.7 L749.7 1435.3 L750.3 1432.0 L750.6 1435.2 L750.9 1438.2 L751.2 1441.5 L751.5 1444.7 L751.8 1448.1 L752.1 1451.1 L752.5 1454.3 L752.8 1457.5 L753.1 1460.8 L753.4 1463.8 L753.7 1467.1 L754.0 1470.1 L754.3 1473.7 L754.6 1476.5 L755.0 1473.4 L755.3 1470.0 L755.7 1466.8 L756.1 1463.5 L756.4 1460.2 L756.8 1457.2 L757.2 1453.9 L757.5 1450.5 L757.9 1447.2 L758.3 1444.0 L758.7 1440.7 L759.0 1437.5 L759.4 1434.3 L759.8 1431.0 L760.1 1427.5 L760.5 1424.4 L762.1 1426.3 L763.7 1429.8 L765.3 1431.9 L766.9 1434.7 L767.5 1431.6 L768.0 1428.8 L768.6 1425.8 L769.2 1422.6 L769.8 1419.2 L770.3 1416.5 L770.9 1413.9 L771.5 1410.3 L772.1 1407.4 L772.6 1404.9 L773.2 1401.6 L773.8 1398.4 L774.5 1395.1 L775.1 1391.5 L775.8 1389.0 L776.4 1385.7 L777.0 1381.9 L777.7 1379.1 L778.3 1375.9 L778.6 1379.1 L779.0 1382.3 L779.3 1385.9 L779.6 1388.8 L780.0 1392.3 L780.3 1395.4 L780.7 1398.6 L781.0 1401.9 L781.3 1405.2 L781.7 1408.3 L782.0 1411.6 L782.3 1408.5 L782.6 1405.2 L783.0 1401.8 L783.3 1398.4 L783.6 1395.1 L784.0 1392.2 L784.3 1388.9 L784.6 1385.5 L784.9 1382.2 L785.2 1378.9 L785.6 1375.7 L785.9 1372.5 L786.2 1369.2 L786.6 1365.8 L786.9 1362.6 L787.2 1359.3 L787.4 1362.5 L787.7 1365.6 L787.9 1368.8 L788.2 1372.1 L788.4 1375.4 L788.7 1378.5 L788.9 1381.9 L789.2 1385.0 L789.4 1388.3 L789.7 1391.5 L789.9 1394.8 L790.2 1397.9 L790.4 1401.2 L790.7 1404.5 L790.9 1407.7 L791.2 1410.7 L791.4 1414.2 L791.7 1417.2 L791.9 1420.4 L792.2 1423.6 L792.4 1427.0 L793.0 1423.7 L793.5 1421.0 L794.1 1418.0 L794.7 1414.8 L795.3 1412.0 L795.8 1409.3 L796.4 1406.2 L797.0 1402.7 L797.6 1399.9 L798.1 1396.7 L798.7 1393.8 L799.1 1397.0 L799.5 1400.3 L800.0 1403.4 L800.4 1406.5 L800.8 1409.9 L801.2 1413.2 L801.6 1416.6 L802.1 1419.7 L802.5 1422.7 L802.9 1425.9 L803.3 1429.3 L803.7 1432.6 L804.2 1435.9 L804.6 1439.2 L805.0 1442.0 L806.0 1445.1 L807.1 1448.5 L808.1 1451.0 L809.2 1455.1 L810.2 1457.5 L811.9 1460.8 L813.6 1463.3 L815.3 1466.5 L817.2 1463.8 L819.1 1461.1 L821.1 1457.0 L823.0 1454.3 L823.3 1451.8 L823.6 1448.8 L823.9 1445.5 L824.2 1442.4 L824.5 1439.4 L824.8 1436.2 L825.1 1432.9 L825.4 1429.8 L825.7 1426.7 L826.0 1423.5 L826.3 1420.4 L826.6 1417.3 L826.9 1414.1 L827.2 1411.0 L827.5 1407.8 L827.7 1410.9 L828.0 1414.1 L828.2 1417.3 L828.4 1420.5 L828.7 1423.7 L828.9 1426.9 L829.1 1429.8 L829.4 1433.0 L829.6 1436.3 L829.8 1439.3 L830.0 1442.5 L830.3 1445.5 L830.5 1448.8 L830.7 1451.8 L831.0 1455.2 L831.2 1458.2 L831.4 1461.4 L831.7 1464.6 L831.9 1467.7 L832.6 1464.7 L833.3 1462.2 L834.0 1458.3 L834.7 1455.7 L835.4 1452.2 L836.0 1449.7 L836.7 1446.6 L837.4 1443.4 L838.1 1440.3 L838.8 1437.9 L839.5 1434.7 L839.9 1437.6 L840.2 1441.1 L840.6 1444.0 L841.0 1447.2 L841.4 1450.6 L841.8 1453.7 L842.1 1457.0 L842.5 1460.2 L842.9 1463.2 L843.2 1466.5 L843.6 1469.7 L844.0 1472.6 L844.4 1476.1 L844.8 1479.3 L845.1 1482.2 L845.5 1485.5 L845.9 1488.9 L846.2 1492.0 L846.6 1495.0 L847.0 1498.2 L847.4 1501.4 L847.8 1504.5 L848.1 1507.8 L848.5 1511.2 L851.5 1509.6 L854.4 1510.2 L857.4 1509.4 L859.0 1507.8 L860.6 1503.2 L862.2 1501.7 L863.8 1498.5 L864.1 1495.1 L864.4 1492.1 L864.6 1489.0 L864.9 1486.1 L865.2 1482.9 L865.5 1479.9 L865.8 1476.8 L866.0 1473.6 L866.3 1470.5 L866.6 1467.4 L866.9 1464.4 L867.1 1461.3 L867.4 1458.2 L867.7 1455.0 L868.1 1458.2 L868.5 1461.5 L868.8 1464.5 L869.2 1467.6 L869.6 1470.7 L870.0 1474.2 L870.3 1477.4 L870.7 1480.5 L871.1 1483.9 L871.5 1486.6 L871.8 1489.8 L872.2 1493.2 L872.6 1490.3 L873.1 1487.0 L873.5 1484.1 L874.0 1481.0 L874.4 1477.8 L874.8 1474.7 L875.3 1471.7 L875.7 1468.7 L876.2 1465.8 L876.6 1462.6 L877.5 1465.5 L878.5 1468.7 L879.5 1472.1 L880.4 1475.5 L880.9 1472.0 L881.5 1468.9 L882.0 1465.9 L882.5 1462.7 L883.1 1459.8 L883.6 1456.3 L884.1 1453.1 L884.7 1450.2 L885.2 1446.3 L885.7 1443.1 L886.3 1440.1 L886.8 1437.0 L887.8 1434.4 L888.8 1431.2 L889.9 1427.7 L890.9 1424.3 L891.9 1421.9 L894.8 1421.0 L897.7 1420.1 L897.8 1417.3 L898.0 1414.2 L898.1 1411.0 L898.2 1407.9 L898.4 1404.7 L898.5 1401.5 L898.7 1398.4 L898.8 1395.2 L898.9 1392.1 L899.1 1388.9 L899.2 1385.9 L899.3 1382.6 L899.5 1379.5 L899.6 1376.4 L899.8 1373.2 L899.9 1369.9 L900.0 1366.9 L900.2 1363.8 L900.3 1360.6 L901.3 1357.1 L902.4 1353.7 L903.4 1350.1 L906.0 1353.1 L908.5 1351.6 L910.8 1348.8 L913.0 1344.8 L913.4 1348.5 L913.9 1351.5 L914.3 1355.1 L914.7 1358.3 L915.1 1361.7 L915.6 1365.1 L916.0 1368.4 L916.2 1371.4 L916.5 1374.5 L916.7 1377.7 L916.9 1380.9 L917.2 1384.2 L917.4 1387.0 L917.6 1390.2 L917.9 1393.4 L918.1 1396.6 L918.4 1399.8 L918.6 1403.0 L918.8 1406.1 L919.1 1409.3 L919.3 1412.3 L919.5 1415.4 L919.8 1418.5 L920.0 1421.8 L920.3 1425.1 L920.6 1428.3 L920.8 1431.8 L921.1 1434.8 L921.4 1438.0 L921.7 1441.4 L921.9 1444.4 L922.2 1448.0 L922.5 1451.2 L922.8 1454.3 L923.1 1457.7 L923.3 1460.9 L923.6 1464.3 L923.9 1467.4 L924.2 1470.6 L924.4 1474.0 L924.7 1477.2 L925.0 1480.4 L927.0 1483.6 L928.9 1485.9 L929.2 1488.7 L929.5 1491.9 L929.8 1495.0 L930.0 1498.3 L930.3 1501.4 L930.6 1504.7 L930.9 1508.0 L931.2 1511.2 L931.5 1514.2 L931.8 1517.4 L932.1 1520.5 L932.4 1523.8 L932.6 1527.1 L932.9 1530.1 L933.2 1533.4 L933.5 1536.5 L934.8 1532.6 L936.0 1529.5 L937.3 1526.5 L937.6 1529.6 L937.8 1532.8 L938.1 1536.1 L938.4 1539.5 L938.6 1543.0 L938.9 1545.9 L939.1 1549.6 L939.4 1552.7 L939.7 1556.0 L939.9 1559.2 L940.2 1562.2 L940.5 1565.7 L940.7 1569.0 L941.0 1572.3 L943.9 1574.3 L946.7 1574.7 L947.3 1577.6 L947.8 1580.9 L948.4 1583.9 L948.9 1587.0 L949.5 1589.9 L950.0 1593.0 L950.6 1595.5 L951.1 1599.2 L951.7 1602.4 L952.2 1605.2 L952.8 1608.3 L953.3 1611.4 L953.9 1614.3 L954.7 1611.0 L955.4 1608.3 L956.2 1605.0 L956.9 1600.8 L957.7 1597.9 L958.4 1594.8 L959.2 1591.7 L959.9 1587.9 L960.7 1584.9 L961.0 1581.9 L961.3 1578.7 L961.7 1575.3 L962.0 1572.2 L962.3 1569.0 L962.6 1566.0 L962.9 1562.7 L963.2 1559.5 L963.6 1556.5 L963.9 1553.2 L964.2 1549.9 L964.5 1546.9 L964.8 1543.7 L965.2 1540.5 L965.5 1537.4 L965.8 1534.0 L966.1 1536.9 L966.4 1540.2 L966.7 1543.4 L967.0 1546.5 L967.3 1549.8 L967.6 1552.9 L967.9 1556.2 L968.2 1559.2 L968.5 1562.3 L968.8 1565.5 L969.1 1568.7 L969.4 1571.6 L969.7 1574.9 L970.3 1571.6 L970.9 1568.0 L971.4 1565.6 L972.0 1562.1 L972.6 1559.1 L973.1 1555.5 L973.7 1552.6 L974.3 1549.2 L974.5 1552.7 L974.7 1555.8 L975.0 1558.9 L975.2 1561.9 L975.4 1565.2 L975.6 1568.4 L975.8 1571.6 L976.0 1574.8 L976.3 1578.0 L976.5 1581.2 L976.7 1584.4 L976.9 1587.5 L977.1 1590.8 L977.4 1594.0 L977.6 1597.1 L977.8 1600.3 L978.5 1596.8 L979.1 1594.3 L979.8 1591.0 L980.4 1587.4 L981.1 1583.8 L981.7 1580.8 L982.4 1577.3 L982.7 1580.6 L982.9 1583.8 L983.2 1587.2 L983.5 1590.4 L983.8 1593.9 L984.0 1597.1 L984.3 1600.3 L984.6 1603.6 L984.8 1606.9 L985.1 1610.2 L985.4 1613.5 L985.7 1616.8 L985.9 1619.9 L986.2 1623.3 L987.1 1620.3 L988.0 1617.4 L988.8 1614.1 L989.7 1610.8 L990.6 1608.2 L991.0 1611.3 L991.4 1614.1 L991.9 1617.5 L992.3 1620.8 L992.7 1623.5 L993.1 1626.8 L993.6 1629.4 L994.0 1632.9 L994.4 1635.9 L994.7 1632.9 L994.9 1629.7 L995.2 1626.6 L995.5 1623.5 L995.8 1620.4 L996.0 1617.2 L996.3 1613.9 L996.6 1610.8 L996.8 1607.7 L997.1 1604.5 L997.4 1601.3 L997.6 1598.2 L997.9 1595.1 L998.2 1591.9 L998.5 1588.7 L998.7 1585.8 L999.0 1582.5 L1000.2 1586.4 L1001.5 1589.0 L1002.8 1592.1 L1004.0 1595.5 L1005.6 1592.7 L1007.2 1589.4 L1008.9 1587.6 L1010.5 1584.3 L1011.0 1588.4 L1011.4 1591.7 L1011.9 1595.0 L1012.3 1598.3 L1012.8 1601.9 L1013.2 1604.9 L1013.6 1608.2 L1014.1 1612.0 L1014.5 1614.9 L1015.0 1618.3 L1016.4 1614.9 L1017.9 1611.7 L1019.3 1608.6 L1020.7 1605.2 L1021.3 1608.5 L1021.9 1611.5 L1022.5 1614.5 L1023.1 1617.5 L1023.7 1620.6 L1024.3 1623.2 L1024.9 1626.9 L1025.4 1629.3 L1026.0 1632.9 L1026.6 1636.0 L1027.2 1638.9 L1027.8 1642.1 L1028.4 1645.6 L1029.0 1648.3 L1029.6 1651.2 L1030.9 1648.4 L1032.2 1644.8 L1033.4 1641.3 L1034.7 1638.7 L1036.0 1636.1 L1038.1 1637.5 L1040.3 1639.7 L1042.4 1641.3 L1043.0 1643.6 L1043.5 1646.7 L1044.1 1649.9 L1044.7 1652.8 L1045.3 1656.2 L1045.8 1659.0 L1046.4 1661.9 L1047.0 1665.5 L1047.6 1667.9 L1048.1 1671.0 L1048.7 1674.4 L1049.3 1671.1 L1050.0 1667.9 L1050.6 1664.8 L1051.2 1661.4 L1051.8 1658.3 L1052.5 1655.1 L1053.1 1652.2 L1053.7 1648.7 L1054.4 1645.3 L1055.0 1642.2 L1055.9 1645.7 L1056.7 1648.3 L1057.6 1651.5 L1058.5 1654.9 L1059.3 1657.8 L1060.2 1661.5 L1064.1 1662.9 L1067.9 1662.3 L1068.7 1664.6 L1069.6 1668.1 L1070.4 1670.9 L1071.3 1674.0 L1072.1 1677.3 L1073.0 1680.2 L1073.8 1683.2 L1074.7 1686.4 L1075.5 1689.5 L1076.0 1686.4 L1076.5 1683.3 L1077.0 1679.7 L1077.5 1676.5 L1078.0 1673.2 L1078.5 1670.4 L1078.9 1667.0 L1079.4 1663.7 L1079.9 1660.3 L1080.4 1657.4 L1080.9 1653.8 L1081.4 1650.4 L1081.9 1647.4 L1082.4 1651.0 L1082.9 1654.0 L1083.4 1657.3 L1083.8 1660.5 L1084.3 1664.1 L1084.8 1667.1 L1085.3 1670.4 L1085.8 1673.9 L1086.2 1677.2 L1086.7 1680.4 L1087.2 1683.8 L1087.7 1687.0 L1088.3 1683.6 L1088.9 1681.2 L1089.5 1678.1 L1090.2 1675.3 L1090.8 1672.4 L1091.4 1669.6 L1092.0 1666.7 L1095.8 1666.5 L1099.7 1667.6 L1100.4 1670.8 L1101.1 1674.0 L1101.8 1676.6 L1102.5 1680.1 L1103.2 1683.3 L1103.9 1686.0 L1104.5 1688.7 L1105.2 1692.4 L1105.9 1695.6 L1106.6 1698.5 L1107.3 1701.8 L1108.0 1704.7 L1108.7 1707.5 L1112.5 1709.9 L1114.1 1708.8 L1115.7 1705.3 L1117.3 1702.1 L1118.9 1700.2 L1120.6 1701.3 L1122.3 1703.6 L1124.0 1706.5 L1125.3 1703.1 L1126.5 1699.2 L1127.8 1696.5 L1129.0 1693.2 L1130.3 1689.1 L1132.4 1687.8 L1134.6 1686.8 L1136.7 1684.6 L1137.1 1681.1 L1137.5 1678.1 L1138.0 1674.6 L1138.4 1671.5 L1138.8 1668.2 L1139.2 1665.0 L1139.7 1661.4 L1140.1 1658.5 L1140.5 1655.0 L1140.8 1658.1 L1141.0 1661.2 L1141.3 1664.4 L1141.5 1667.5 L1141.8 1670.6 L1142.0 1673.9 L1142.3 1677.0 L1142.5 1680.1 L1142.8 1683.2 L1143.0 1686.4 L1143.3 1689.6 L1143.6 1692.7 L1143.8 1695.7 L1144.1 1699.0 L1144.3 1702.1 L1144.6 1705.0 L1144.8 1708.3 L1145.1 1711.6 L1145.3 1714.5 L1145.6 1717.6 L1149.5 1716.8 L1150.1 1714.7 L1150.8 1711.6 L1151.4 1708.5 L1152.0 1705.7 L1152.7 1702.2 L1153.3 1699.4 L1154.0 1696.8 L1154.6 1693.6 L1155.3 1696.2 L1156.0 1698.8 L1156.7 1702.3 L1157.4 1705.3 L1158.2 1708.2 L1158.9 1710.9 L1159.6 1714.3 L1160.3 1716.8 L1161.0 1719.8 L1162.0 1716.4 L1163.0 1713.4 L1164.0 1710.1 L1165.0 1706.5 L1166.0 1703.7 L1167.5 1707.0 L1169.0 1708.1 L1170.5 1712.0 L1172.0 1714.1 L1173.5 1715.8 L1175.0 1720.0 L1177.1 1716.7 L1179.2 1714.8 L1181.3 1712.3 L1181.8 1715.4 L1182.4 1719.0 L1182.9 1722.6 L1183.4 1725.8 L1183.9 1728.7 L1184.5 1732.3 L1185.0 1735.6 L1189.0 1736.1 L1189.5 1739.0 L1190.0 1742.2 L1190.5 1745.3 L1191.0 1748.4 L1191.5 1751.4 L1192.0 1754.4 L1192.5 1757.8 L1193.0 1761.2 L1193.5 1764.4 L1194.0 1767.3 L1194.8 1763.6 L1195.5 1760.8 L1196.3 1757.4 L1197.1 1754.7 L1197.8 1751.0 L1198.6 1748.0 L1199.4 1745.0 L1200.2 1741.8 L1200.9 1738.7 L1201.7 1735.6 L1202.2 1738.6 L1202.7 1741.9 L1203.2 1744.5 L1203.8 1747.8 L1204.3 1751.3 L1204.8 1753.9 L1205.3 1756.8 L1205.8 1760.0 L1206.3 1763.0 L1206.8 1766.0 L1207.3 1769.4 L1207.9 1772.6 L1208.4 1775.2 L1208.9 1778.2 L1209.4 1781.5 L1209.8 1778.4 L1210.3 1775.0 L1210.7 1771.9 L1211.2 1768.5 L1211.6 1765.5 L1212.1 1762.1 L1212.5 1758.9 L1213.0 1755.7 L1213.4 1752.2 L1213.9 1749.2 L1214.3 1746.0 L1214.8 1742.9 L1215.2 1739.4 L1215.7 1736.0 L1216.1 1732.9 L1216.6 1729.9 L1217.0 1726.6 L1217.3 1729.8 L1217.7 1733.1 L1218.0 1736.2 L1218.3 1739.3 L1218.7 1742.4 L1219.0 1745.4 L1219.3 1748.6 L1219.7 1751.7 L1220.0 1754.8 L1220.3 1758.1 L1220.7 1761.2 L1221.0 1764.3 L1221.3 1767.4 L1221.7 1770.4 L1222.0 1773.9 L1224.7 1772.0 L1227.3 1770.9 L1227.8 1767.6 L1228.4 1765.0 L1228.9 1762.0 L1229.4 1758.9 L1230.0 1755.6 L1230.5 1752.5 L1231.1 1750.0 L1231.6 1746.4 L1232.1 1743.5 L1232.7 1740.4 L1233.2 1737.3 L1233.7 1734.5 L1234.3 1731.2 L1234.8 1728.2 L1235.4 1725.2 L1235.9 1722.0 L1236.4 1718.8 L1237.0 1715.5 L1237.5 1712.7 L1237.9 1715.8 L1238.3 1718.7 L1238.8 1722.2 L1239.2 1725.6 L1239.6 1728.7 L1240.0 1731.8 L1240.5 1735.1 L1240.9 1738.1 L1241.3 1741.1 L1241.8 1744.5 L1242.2 1747.7 L1242.6 1750.8 L1242.9 1747.5 L1243.2 1744.3 L1243.5 1741.4 L1243.9 1738.1 L1244.2 1734.8 L1244.5 1731.8 L1244.8 1728.5 L1245.1 1725.2 L1245.5 1722.0 L1245.8 1719.0 L1246.1 1715.9 L1246.4 1712.6 L1246.7 1709.3 L1247.0 1705.9 L1247.3 1702.9 L1247.7 1699.8 L1248.0 1696.5 L1248.3 1693.3 L1248.6 1690.1 L1248.9 1686.8 L1249.2 1684.0 L1249.6 1680.4 L1249.9 1677.4 L1250.2 1674.3 L1251.5 1677.7 L1252.8 1681.1 L1254.0 1683.4 L1255.3 1687.0 L1256.2 1684.6 L1257.2 1680.7 L1258.1 1678.1 L1259.0 1674.7 L1259.9 1671.4 L1260.9 1668.6 L1261.8 1665.6 L1262.7 1663.2 L1263.6 1660.2 L1264.6 1657.6 L1265.5 1653.7 L1266.2 1657.1 L1267.0 1660.6 L1267.7 1663.6 L1268.4 1666.7 L1269.1 1670.2 L1269.9 1673.8 L1270.6 1676.7 L1273.2 1680.6 L1275.7 1681.5 L1278.3 1684.9 L1278.7 1681.3 L1279.2 1677.8 L1279.6 1674.5 L1280.0 1671.4 L1280.4 1667.7 L1280.9 1664.7 L1281.3 1661.2 L1281.7 1658.1 L1282.2 1654.8 L1282.6 1651.3 L1282.8 1654.4 L1283.1 1657.7 L1283.3 1660.8 L1283.5 1663.9 L1283.8 1667.4 L1284.0 1670.3 L1284.2 1673.4 L1284.4 1676.8 L1284.7 1679.8 L1284.9 1683.2 L1285.1 1686.5 L1285.4 1689.6 L1285.6 1692.8 L1285.8 1695.9 L1286.0 1699.0 L1286.3 1702.1 L1286.5 1705.3 L1286.7 1708.6 L1287.0 1711.8 L1287.2 1715.1 L1287.8 1712.0 L1288.5 1709.0 L1289.1 1706.4 L1289.7 1703.1 L1290.4 1700.5 L1291.0 1697.4 L1291.4 1700.3 L1291.8 1703.6 L1292.3 1706.6 L1292.7 1709.7 L1293.1 1713.0 L1293.5 1716.0 L1294.0 1719.0 L1294.4 1722.3 L1294.8 1725.4 L1296.1 1721.9 L1297.4 1718.2 L1298.7 1714.9 L1299.0 1718.2 L1299.3 1721.4 L1299.6 1724.3 L1299.9 1727.8 L1300.2 1730.8 L1300.5 1734.0 L1300.8 1737.4 L1301.1 1740.4 L1301.4 1743.6 L1301.7 1746.6 L1302.0 1749.9 L1302.3 1752.7 L1302.6 1756.0 L1302.9 1759.1 L1303.2 1762.5 L1303.5 1765.6 L1303.8 1768.6 L1305.2 1765.8 L1306.6 1762.1 L1306.9 1765.4 L1307.2 1768.9 L1307.5 1771.7 L1307.8 1775.3 L1308.1 1778.4 L1308.4 1781.8 L1308.7 1785.1 L1309.0 1788.5 L1309.3 1791.7 L1309.6 1795.0 L1309.9 1798.0 L1310.2 1801.5 L1310.5 1804.8 L1310.9 1807.9 L1311.3 1811.0 L1311.7 1814.4 L1312.1 1817.5 L1312.5 1820.5 L1312.9 1823.7 L1313.3 1826.8 L1313.7 1830.0 L1314.1 1833.2 L1314.5 1836.5 L1315.2 1833.5 L1315.8 1829.9 L1316.5 1826.3 L1317.1 1823.1 L1317.8 1820.0 L1318.4 1816.5 L1319.0 1813.5 L1319.7 1810.2 L1320.4 1813.4 L1321.2 1815.7 L1321.9 1818.9 L1322.6 1821.7 L1323.4 1824.8 L1324.1 1827.3 L1324.8 1830.6 L1325.6 1833.5 L1326.3 1836.3 L1326.9 1839.7 L1327.4 1843.1 L1328.0 1846.2 L1328.5 1849.4 L1329.1 1852.9 L1329.7 1856.2 L1330.2 1859.2 L1330.8 1862.6 L1331.3 1865.9 L1331.9 1869.1 L1332.4 1872.6 L1333.0 1875.7 L1335.2 1873.2 L1337.3 1873.2 L1339.5 1871.1 L1340.5 1873.1 L1341.5 1876.3 L1342.5 1879.1 L1343.5 1881.7 L1344.4 1885.8 L1345.4 1888.2 L1346.4 1891.7 L1347.4 1894.2 L1350.7 1892.1 L1354.0 1891.9 L1355.5 1894.0 L1357.1 1897.3 L1358.6 1898.7 L1360.1 1902.9 L1361.7 1905.7 L1363.2 1907.2 L1363.5 1910.2 L1363.9 1913.4 L1364.2 1916.7 L1364.6 1919.6 L1364.9 1922.9 L1365.3 1926.1 L1365.6 1929.1 L1365.9 1932.4 L1366.3 1935.4 L1366.6 1938.4 L1367.0 1941.7 L1367.3 1944.7 L1367.7 1947.9 L1368.0 1951.0 L1368.6 1948.3 L1369.1 1944.7 L1369.7 1942.0 L1370.3 1938.9 L1370.8 1935.9 L1371.4 1932.7 L1372.0 1929.5 L1372.6 1926.3 L1373.1 1923.5 L1373.7 1920.7 L1374.9 1923.9 L1376.1 1927.2 L1377.3 1929.4 L1378.5 1933.1 L1379.7 1935.9 L1380.9 1938.5 L1382.1 1942.7 L1383.3 1946.1 L1384.5 1948.5 L1385.7 1952.1 L1386.9 1954.8 L1388.2 1951.1 L1389.5 1947.4 L1390.7 1945.3 L1392.0 1942.0 L1393.7 1944.2 L1395.3 1947.9 L1397.0 1950.5 L1398.7 1952.4 L1400.3 1956.1 L1402.0 1958.9 L1403.6 1960.8 L1405.3 1963.9 L1407.9 1963.2 L1410.5 1961.4 L1413.2 1960.1 L1415.8 1960.1 L1417.8 1958.0 L1419.8 1953.6 L1420.5 1956.4 L1421.1 1959.4 L1421.8 1962.9 L1422.4 1965.4 L1423.1 1968.4 L1423.8 1971.5 L1424.4 1974.6 L1425.1 1977.6 L1425.7 1980.7 L1426.4 1983.8 L1429.0 1982.7 L1431.7 1980.2 L1434.3 1976.5 L1436.9 1975.8 L1439.1 1977.8 L1441.3 1980.3 L1443.5 1983.6 L1444.6 1986.4 L1445.6 1989.6 L1446.7 1992.3 L1447.7 1995.9 L1448.8 1998.2 L1449.5 1994.9 L1450.1 1992.4 L1450.8 1989.0 L1451.4 1986.3 L1452.0 1982.7 L1452.7 1979.7 L1453.3 1976.7 L1454.0 1973.8 L1454.6 1970.6 L1455.3 1968.2 L1457.9 1970.8 L1460.6 1971.0 L1463.2 1974.1 L1464.5 1970.8 L1465.8 1966.9 L1467.2 1964.2 L1468.5 1961.5 L1469.4 1964.1 L1470.3 1967.7 L1471.1 1970.3 L1472.0 1974.0 L1472.9 1977.4 L1473.8 1979.9 L1474.6 1983.2 L1475.5 1986.0 L1476.4 1989.1 L1477.7 1985.9 L1479.1 1983.8 L1480.4 1981.9 L1481.7 1978.9 L1483.4 1980.6 L1485.1 1983.9 L1486.8 1987.3 L1488.4 1990.3 L1490.1 1992.6 L1491.8 1994.7 L1493.5 1998.1 L1494.2 1995.4 L1494.9 1992.5 L1495.6 1989.0 L1496.3 1986.2 L1497.0 1983.5 L1497.7 1979.8 L1498.5 1976.7 L1499.2 1974.0 L1499.9 1971.2 L1500.6 1967.9 L1501.3 1964.9 L1502.0 1961.5 L1502.7 1958.8 L1503.6 1961.3 L1504.6 1965.1 L1505.5 1968.2 L1506.5 1971.9 L1507.4 1974.9 L1508.4 1977.4 L1509.3 1981.3 L1511.5 1984.4 L1513.7 1984.7 L1515.9 1986.5 L1516.9 1989.3 L1517.9 1992.5 L1519.0 1995.7 L1520.0 1999.1 L1521.0 2002.0 L1521.8 1998.9 L1522.5 1995.6 L1523.3 1993.6 L1524.0 1990.1 L1524.8 1987.1 L1525.5 1983.6 L1526.3 1980.5 L1527.0 1977.5 L1527.8 1974.5 L1528.8 1977.8 L1529.9 1979.7 L1530.9 1983.2 L1532.0 1986.0 L1533.0 1988.9 L1535.0 1991.7 L1537.0 1993.8 L1538.9 1996.0 L1540.9 1998.4 L1541.7 1994.4 L1542.6 1991.9 L1543.4 1988.4 L1544.2 1985.2 L1545.0 1981.8 L1545.8 1978.2 L1546.7 1975.5 L1547.5 1971.9 L1548.2 1975.2 L1548.8 1978.1 L1549.5 1981.2 L1550.2 1984.7 L1550.8 1987.3 L1551.5 1991.1 L1552.1 1994.1 L1552.8 1997.0 L1554.0 2000.2 L1555.1 2003.9 L1556.2 2005.8 L1557.4 2008.1 L1558.5 2011.4 L1559.7 2014.5 L1560.8 2017.6 L1562.0 2020.3 L1563.3 2018.0 L1564.6 2015.8 L1566.0 2013.1 L1567.3 2010.2 L1568.6 2007.1 L1569.1 2010.7 L1569.7 2013.7 L1570.2 2016.8 L1570.7 2019.8 L1571.3 2023.1 L1571.8 2025.7 L1572.3 2029.0 L1572.9 2032.2 L1573.4 2035.1 L1573.9 2038.3 L1574.5 2041.5 L1575.0 2044.7 L1575.7 2040.8 L1576.5 2038.2 L1577.2 2035.1 L1577.9 2031.7 L1578.6 2028.8 L1579.4 2025.2 L1580.1 2022.7 L1580.8 2019.5 L1581.5 2016.0 L1582.3 2013.3 L1583.0 2009.8 L1583.9 2013.1 L1584.8 2017.1 L1585.7 2019.2 L1586.6 2022.3 L1587.4 2026.2 L1588.3 2029.4 L1589.2 2033.2 L1590.1 2036.2 L1591.0 2039.1 L1593.0 2040.3 L1594.9 2042.9 L1596.9 2045.4 L1598.9 2048.8 L1600.8 2049.6 L1602.8 2052.4 L1603.4 2048.9 L1604.0 2046.3 L1604.5 2043.5 L1605.1 2040.0 L1605.7 2036.8 L1606.3 2033.6 L1606.8 2030.7 L1607.4 2027.5 L1608.0 2024.4 L1609.3 2028.1 L1610.6 2030.3 L1612.0 2033.4 L1613.3 2036.2 L1614.6 2039.0 L1617.6 2040.3 L1620.5 2041.5 L1623.5 2043.4 L1626.5 2044.0 L1627.1 2041.1 L1627.8 2038.2 L1628.4 2035.2 L1629.1 2031.7 L1629.7 2028.8 L1630.4 2025.7 L1631.0 2022.8 L1631.7 2020.1 L1632.3 2016.5 L1632.9 2020.1 L1633.5 2023.5 L1634.1 2026.5 L1634.7 2029.9 L1635.2 2032.9 L1635.8 2036.1 L1636.4 2039.9 L1637.0 2043.0 L1639.6 2045.1 L1642.3 2044.7 L1644.9 2045.4 L1646.7 2043.6 L1648.5 2041.6 L1650.4 2038.4 L1652.2 2034.7 L1654.0 2032.6 L1655.2 2035.8 L1656.4 2038.3 L1657.6 2041.6 L1658.8 2045.3 L1659.9 2048.0 L1661.1 2051.0 L1662.3 2053.8 L1663.5 2057.0 L1664.7 2060.0 L1666.7 2057.2 L1668.7 2054.5 L1670.6 2050.7 L1672.6 2048.4 L1673.9 2050.8 L1675.2 2054.0 L1676.5 2056.1 L1677.9 2059.6 L1679.2 2062.3 L1680.5 2065.5 L1682.1 2062.5 L1683.8 2059.3 L1685.4 2057.5 L1687.0 2053.7 L1688.5 2057.1 L1690.0 2060.8 L1691.5 2062.3 L1693.1 2065.1 L1694.6 2067.5 L1696.1 2070.9 L1697.6 2073.0 L1699.2 2071.1 L1700.8 2068.2 L1702.4 2064.6 L1704.0 2063.4 L1705.9 2064.8 L1707.8 2068.2 L1709.7 2071.7 L1711.6 2072.7 L1713.5 2076.7 L1715.4 2080.1 L1717.3 2082.8 L1718.8 2079.6 L1720.4 2077.2 L1721.9 2075.3 L1723.4 2071.2 L1725.0 2068.9 L1726.5 2067.2 L1727.8 2069.5 L1729.1 2072.5 L1730.4 2074.8 L1731.8 2077.5 L1733.1 2080.0 L1734.4 2084.1 L1735.7 2086.2 L1737.0 2088.6 L1739.7 2088.1 L1742.3 2086.0 L1744.9 2085.9 L1747.6 2083.3 L1749.3 2081.0 L1751.0 2078.8 L1752.7 2075.5 L1754.4 2074.4 L1756.1 2072.1 L1757.8 2068.9 L1759.5 2066.2 L1760.5 2068.9 L1761.6 2072.7 L1762.7 2075.3 L1763.7 2078.1 L1764.8 2081.2 L1765.8 2084.2 L1766.8 2086.4 L1767.9 2090.3 L1769.0 2092.6 L1770.0 2095.7 L1771.3 2092.8 L1772.6 2090.2 L1773.9 2087.8 L1775.3 2083.9 L1776.6 2081.5 L1777.9 2078.3 L1779.2 2075.9 L1782.0 2074.9 L1784.8 2073.8 L1787.7 2073.1 L1790.5 2071.9 L1791.8 2075.5 L1793.1 2077.9 L1794.4 2081.5 L1795.7 2083.7 L1797.0 2086.4 L1800.1 2085.5 L1803.2 2084.0 L1806.3 2081.0 L1808.4 2083.8 L1810.5 2085.6 L1812.7 2087.8 L1814.8 2091.0 L1816.9 2093.1 L1819.5 2095.5 L1822.2 2096.1 L1824.8 2098.9 L1827.4 2101.0 L1830.1 2102.0 L1832.7 2103.5 L1834.0 2107.2 L1835.3 2110.7 L1836.7 2113.2 L1838.0 2117.1 L1838.6 2114.2 L1839.1 2110.6 L1839.7 2107.3 L1840.2 2104.2 L1840.8 2100.9 L1841.3 2097.9 L1841.9 2094.3 L1842.4 2091.0 L1843.0 2087.9 L1843.9 2091.4 L1844.8 2094.1 L1845.8 2097.4 L1846.7 2100.3 L1847.6 2103.3 L1848.5 2106.7 L1851.1 2104.9 L1853.7 2104.7 L1856.4 2103.6 L1859.0 2101.5 L1861.6 2100.0 L1862.4 2103.0 L1863.2 2106.1 L1864.0 2109.1 L1864.8 2112.6 L1865.6 2115.7 L1866.4 2118.6 L1867.2 2121.7 L1868.0 2124.9 L1868.7 2122.1 L1869.4 2118.7 L1870.1 2116.3 L1870.8 2112.8 L1871.4 2110.1 L1872.1 2106.9 L1872.8 2103.9 L1873.5 2101.1 L1875.1 2103.4 L1876.8 2106.2 L1878.4 2107.8 L1880.0 2111.9 L1881.3 2108.4 L1882.7 2106.8 L1884.0 2104.0 L1885.3 2101.4 L1886.7 2099.2 L1888.0 2096.0 L1889.2 2098.5 L1890.5 2100.9 L1891.8 2103.1 L1893.0 2106.7 L1895.3 2103.2 L1897.5 2102.6 L1899.8 2099.4 L1902.7 2099.3 L1905.5 2101.9 L1908.4 2101.9 L1911.3 2102.6 L1914.1 2102.8 L1917.0 2104.6 L1919.6 2100.6 L1922.2 2098.8 L1924.8 2096.1 L1925.9 2099.3 L1927.1 2101.5 L1928.2 2104.6 L1929.3 2106.9 L1930.4 2109.3 L1931.6 2112.6 L1932.7 2116.0 L1934.0 2112.7 L1935.3 2109.8 L1936.7 2108.3 L1938.0 2104.7 L1939.3 2102.5 L1941.6 2099.9 L1943.9 2096.9 L1946.2 2093.6 L1948.5 2092.6 L1950.6 2095.1 L1952.7 2096.9 L1954.8 2099.3 L1956.9 2101.1 L1959.0 2104.3 L1960.7 2100.3 L1962.3 2096.6 L1963.9 2094.8 L1965.6 2092.0 L1967.7 2094.7 L1969.9 2097.6 L1972.0 2100.0 L1974.8 2096.6 L1977.5 2094.1 L1979.8 2096.5 L1982.1 2098.0 L1984.4 2099.2 L1986.7 2100.8 L1987.6 2098.0 L1988.6 2094.7 L1989.5 2092.1 L1990.5 2088.5 L1991.4 2085.2 L1992.4 2082.4 L1993.3 2078.4 L1994.4 2081.6 L1995.5 2084.4 L1996.6 2087.2 L1997.7 2090.8 L1998.8 2094.6 L1999.9 2096.8 L2001.0 2099.4 L2002.9 2096.2 L2004.8 2093.9 L2006.6 2092.2 L2008.5 2090.0 L2010.4 2086.0 L2012.1 2089.9 L2013.7 2091.9 L2015.3 2096.1 L2017.0 2098.6 L2018.1 2095.5 L2019.3 2092.0 L2020.4 2088.9 L2021.5 2086.0 L2022.6 2083.4 L2023.8 2080.9 L2024.9 2077.8 L2026.8 2078.8 L2028.8 2082.8 L2030.5 2079.6 L2032.3 2075.9 L2034.0 2073.2 L2034.9 2076.8 L2035.8 2078.8 L2036.7 2081.9 L2037.6 2085.2 L2038.4 2088.6 L2039.3 2091.4 L2040.2 2093.9 L2041.1 2096.2 L2042.0 2099.7 L2043.8 2097.5 L2045.6 2094.0 L2047.4 2092.7 L2049.2 2089.2 L2051.0 2086.6 L2053.0 2088.0 L2055.0 2090.8 L2056.5 2087.3 L2058.1 2085.0 L2059.6 2082.9 L2061.1 2080.0 L2062.6 2078.7 L2064.2 2073.9 L2065.7 2071.8 L2067.5 2074.0 L2069.4 2076.6 L2071.2 2081.4 L2073.1 2081.3 L2074.9 2085.4 L2076.5 2088.0 L2078.1 2090.9 L2079.6 2093.5 L2081.2 2096.9 L2082.8 2099.7 L2084.1 2097.0 L2085.4 2093.6 L2086.8 2091.2 L2088.1 2088.2 L2089.4 2085.8 L2092.0 2087.0 L2094.6 2089.7 L2096.3 2087.1 L2098.0 2084.6 L2099.7 2082.1 L2101.4 2079.4 L2103.1 2076.6 L2104.8 2074.2 L2106.5 2071.4 L2108.1 2074.4 L2109.7 2076.6 L2111.2 2079.5 L2112.8 2081.3 L2114.4 2085.2 L2117.9 2085.2 L2121.5 2086.4 L2125.0 2086.3 L2126.6 2090.2 L2128.2 2091.0 L2129.9 2092.4 L2131.5 2095.5 L2133.0 2092.5 L2134.6 2090.3 L2136.1 2089.1 L2137.6 2085.7 L2139.2 2082.0 L2140.7 2080.6 L2143.3 2081.1 L2145.8 2083.6 L2148.4 2085.3 L2151.0 2085.0 L2152.9 2086.7 L2154.8 2090.4 L2156.7 2093.2 L2158.6 2095.5 L2160.5 2099.0 L2162.0 2095.8 L2163.4 2093.0 L2164.9 2090.5 L2166.4 2087.1 L2167.9 2084.2 L2169.4 2081.3 L2170.8 2079.1 L2172.3 2076.5 L2173.8 2078.7 L2175.4 2082.0 L2176.9 2083.5 L2178.5 2086.8 L2180.0 2089.8 L2181.6 2085.1 L2183.1 2083.1 L2184.7 2080.4 L2186.3 2078.6 L2187.8 2075.3 L2189.4 2072.8 L2191.1 2074.3 L2192.7 2078.8 L2194.3 2081.3 L2196.0 2084.2 L2197.3 2081.7 L2198.7 2078.8 L2200.0 2075.2 L2201.3 2073.6 L2202.7 2071.3 L2204.0 2067.8 L2205.5 2070.5 L2206.9 2074.1 L2208.4 2075.6 L2209.9 2078.8 L2211.4 2081.4 L2212.9 2083.6 L2214.3 2086.4 L2215.8 2088.8 L2216.9 2086.1 L2218.1 2083.0 L2219.2 2080.8 L2220.3 2078.6 L2221.4 2074.9 L2222.6 2071.7 L2223.7 2069.6 L2225.7 2072.9 L2227.6 2074.7 L2229.6 2077.6 L2231.6 2079.2 L2233.5 2083.6 L2235.5 2085.6 L2236.8 2082.8 L2238.1 2079.9 L2239.4 2076.4 L2240.8 2072.5 L2242.1 2070.1 L2243.4 2066.9 L2245.6 2069.9 L2247.8 2070.6 L2250.0 2074.8 L2252.5 2072.2 L2255.0 2069.5" stroke="#ff0000"/>
</g>
<g stroke="#050505" fill="none">
<line x1="225.0" y1="42" x2="225.0" y2="2170.2" stroke-width="6.2"/>
<line x1="2257.3" y1="42" x2="2257.3" y2="2170.2" stroke-width="6.2"/>
<line x1="221.9" y1="2167.2" x2="2260.4" y2="2167.2" stroke-width="6.1"/>
<line x1="221.9" y1="44.4" x2="2260.4" y2="44.4" stroke-width="4.8"/>
</g>
<g stroke="#050505" stroke-width="5.7">
<line x1="226.6" y1="2167.2" x2="226.6" y2="2184.2"/>
<line x1="429.7" y1="2167.2" x2="429.7" y2="2179.5"/>
<line x1="632.7" y1="2167.2" x2="632.7" y2="2184.2"/>
<line x1="835.8" y1="2167.2" x2="835.8" y2="2179.5"/>
<line x1="1038.9" y1="2167.2" x2="1038.9" y2="2184.2"/>
<line x1="1242.0" y1="2167.2" x2="1242.0" y2="2179.5"/>
<line x1="1445.0" y1="2167.2" x2="1445.0" y2="2184.2"/>
<line x1="1648.1" y1="2167.2" x2="1648.1" y2="2179.5"/>
<line x1="1851.2" y1="2167.2" x2="1851.2" y2="2184.2"/>
<line x1="2054.2" y1="2167.2" x2="2054.2" y2="2179.5"/>
<line x1="2257.3" y1="2167.2" x2="2257.3" y2="2184.2"/>
</g>
<g font-size="80.5" text-anchor="middle">
<text transform="translate(222.6 2259.3) scale(1 1.025)">300</text>
<text transform="translate(630.1 2259.3) scale(1 1.025)">400</text>
<text transform="translate(1037.8 2259.3) scale(1 1.025)">500</text>
<text transform="translate(1442.2 2259.3) scale(1 1.025)">600</text>
<text transform="translate(1848.4 2259.3) scale(1 1.025)">700</text>
<text transform="translate(2254.7 2259.3) scale(1 1.025)">800</text>
</g>
<text transform="translate(1245.5 2373.4) scale(1 1.05)" font-size="108.7" text-anchor="middle">Wavelength (nm)</text>
<text transform="translate(120.4 1114.5) rotate(-90) scale(1 1.05)" font-size="109" text-anchor="middle">Intensity (a.u.)</text>
<text transform="translate(357.5 440.5) rotate(-90) scale(1 1.03)" font-size="94">1 × 10<tspan font-size="55" dy="-31">5</tspan></text>
<text transform="translate(357.5 1436.0) rotate(-90) scale(1 1.03)" font-size="94">2 × 10<tspan font-size="55" dy="-31">3</tspan></text>
<line x1="388" y1="238" x2="388" y2="395.4" stroke="#000" stroke-width="8.6"/>
<line x1="388" y1="1252.6" x2="388" y2="1384.8" stroke="#000" stroke-width="8.6"/>
<line x1="1681.2" y1="205.2" x2="1809.8" y2="205.2" stroke="#36a52f" stroke-width="7.4" stroke-linecap="round"/>
<text transform="translate(1836.5 235.3) scale(1 1.02)" font-size="93.5">Urea-TiO<tspan font-size="54" dy="32.0">2</tspan></text>
<line x1="1681.2" y1="325.7" x2="1809.8" y2="325.7" stroke="#0c9fc6" stroke-width="7.4" stroke-linecap="round"/>
<text transform="translate(1836.5 358.5) scale(1 1.02)" font-size="93.5">No-TiO<tspan font-size="54" dy="32.0">2</tspan></text>
<line x1="1681.2" y1="1286.0" x2="1809.8" y2="1286.0" stroke="#ff0000" stroke-width="7.4" stroke-linecap="round"/>
<text transform="translate(1836.5 1317.7) scale(1 1.02)" font-size="93.5">AC-TiO<tspan font-size="54" dy="31.5">2</tspan></text>
<line x1="1681.2" y1="1411.9" x2="1809.8" y2="1411.9" stroke="#811b8b" stroke-width="7.4" stroke-linecap="round"/>
<text transform="translate(1836.5 1442.2) scale(1 1.02)" font-size="93.5">AS-TiO<tspan font-size="54" dy="31.5">2</tspan></text>
<g font-size="93.5" text-anchor="middle">
<text transform="translate(614.7 534.7) scale(1 1.04)">394</text>
<text transform="translate(748.5 394.0) scale(1 1.04)">436</text>
<text transform="translate(815.0 209.0) scale(1 1.04)">448</text>
<text transform="translate(913.3 288.2) scale(1 1.04)">467</text>
<text transform="translate(984.8 407.7) scale(1 1.04)">481</text>
<text transform="translate(1140.0 328.5) scale(1 1.04)">491</text>
<text transform="translate(1281.8 379.7) scale(1 1.04)">558</text>
<text transform="translate(1519.6 785.7) scale(1 1.04)">616</text>
</g>
</g></svg></body></html>
